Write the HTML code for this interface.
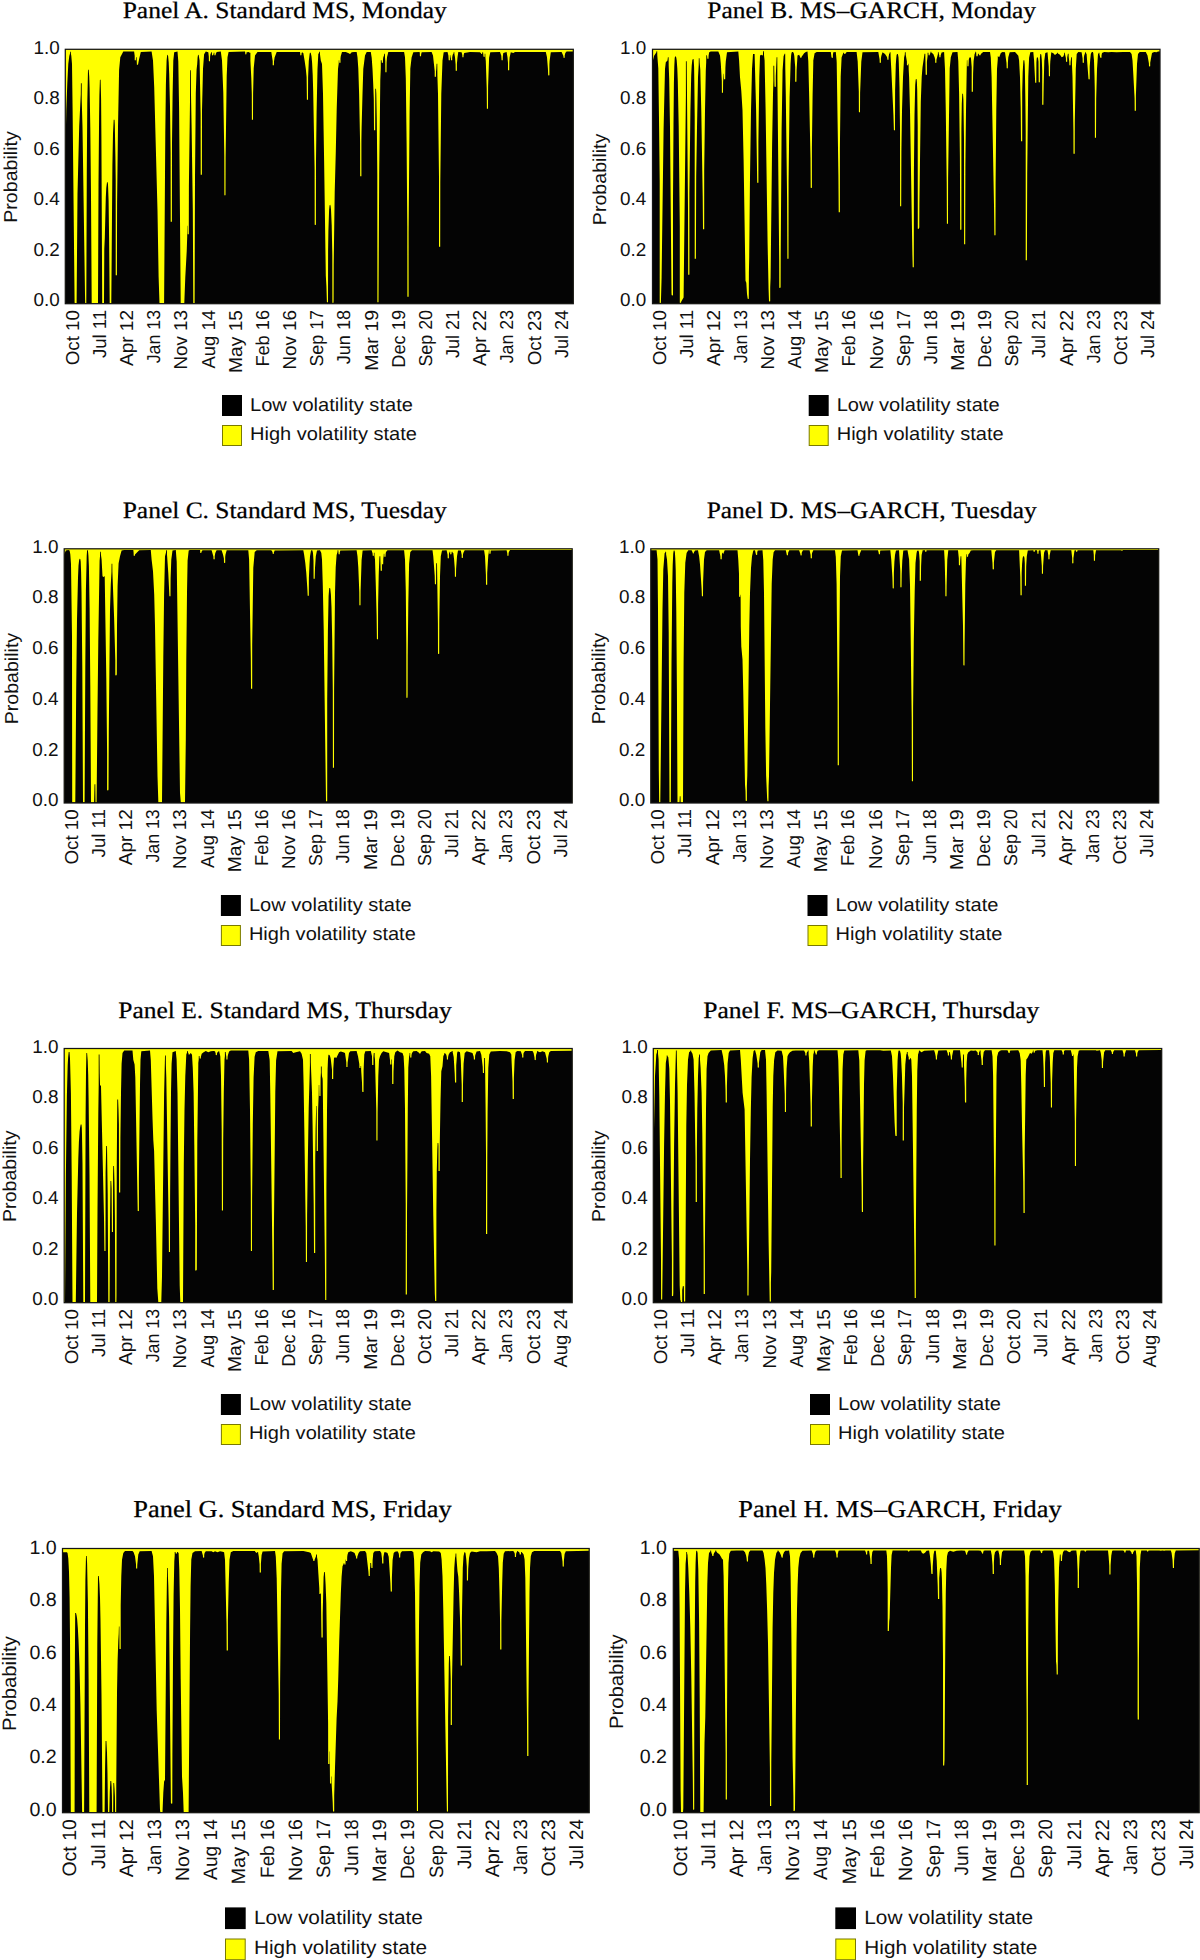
<!DOCTYPE html>
<html lang="en"><head><meta charset="utf-8"><title>Smoothed state probabilities</title>
<style>
html,body{margin:0;padding:0;background:#fff;}
svg{display:block;}
text{text-rendering:geometricPrecision;}
</style></head>
<body>
<svg width="1200" height="1960" viewBox="0 0 1200 1960">
<rect width="1200" height="1960" fill="#fff"/>
<g id="panelA">
<text x="122.7" y="17.9" font-family='"Liberation Serif", serif' font-size="23.5" textLength="324.0" lengthAdjust="spacingAndGlyphs" fill="#000" stroke="#000" stroke-width="0.25">Panel A. Standard MS, Monday</text>
<rect x="65.3" y="49.3" width="508.0" height="254.4" fill="#ffff00"/>
<path d="M65.3,303.7 L65.3,159.0 L66.3,110.2 L67.3,83.6 L68.3,63.8 L69.3,55.9 L70.0,53.5 L70.1,51.8 L70.8,51.8 L70.9,53.7 L71.3,55.8 L72.0,64.0 L72.6,109.3 L74.6,301.7 L74.7,303.2 L76.6,303.2 L77.5,194.0 L79.2,126.6 L80.8,94.0 L80.9,83.3 L81.7,83.3 L81.7,98.9 L82.5,127.3 L85.0,294.0 L85.2,302.8 L85.3,303.2 L86.3,303.2 L86.8,171.6 L87.3,102.3 L88.0,69.8 L88.7,69.8 L89.2,76.3 L89.6,87.5 L90.3,127.6 L91.0,195.4 L91.7,303.2 L98.0,303.2 L98.5,185.7 L99.1,117.8 L99.4,94.8 L99.9,79.8 L100.6,79.8 L101.1,99.6 L101.4,136.2 L102.2,303.2 L104.0,303.2 L104.3,248.7 L104.8,238.1 L105.8,197.3 L106.3,187.8 L107.0,182.3 L107.7,182.3 L108.0,184.4 L108.6,200.7 L109.1,239.0 L109.7,303.2 L111.3,303.2 L112.4,165.4 L113.0,133.6 L113.7,119.8 L114.5,119.8 L114.8,125.0 L115.4,156.6 L115.7,180.1 L115.7,275.3 L116.3,275.3 L116.3,275.7 L116.4,275.3 L116.9,275.3 L117.1,202.3 L118.0,127.3 L119.1,69.8 L120.3,57.3 L123.3,51.5 L134.1,51.5 L134.7,55.7 L134.7,60.3 L135.2,60.3 L135.3,60.6 L135.4,60.3 L135.9,60.3 L136.0,57.3 L136.6,57.3 L136.9,64.8 L138.0,64.8 L139.1,59.1 L140.8,52.0 L151.6,51.5 L153.0,60.6 L154.2,86.8 L157.5,210.7 L158.6,276.4 L159.5,303.2 L164.1,303.2 L165.3,133.1 L165.9,84.4 L166.6,60.4 L167.2,55.1 L167.4,54.8 L167.7,54.9 L168.1,56.0 L168.7,62.3 L169.2,74.0 L170.0,106.4 L170.6,152.9 L170.7,221.8 L171.3,221.8 L171.3,222.0 L171.4,221.8 L171.9,221.8 L172.0,144.0 L172.6,95.2 L173.3,60.5 L174.2,52.3 L177.5,51.5 L178.3,61.6 L179.1,109.6 L180.7,303.2 L184.3,303.2 L185.3,277.0 L186.7,251.5 L187.2,236.8 L187.3,225.8 L187.6,225.8 L187.7,234.3 L188.8,234.3 L188.9,186.0 L190.0,101.2 L190.1,70.3 L190.8,70.3 L190.9,72.8 L191.0,94.9 L191.6,126.5 L192.8,208.3 L193.3,303.2 L194.6,303.2 L195.0,177.3 L195.8,93.5 L196.6,69.5 L197.2,64.3 L197.6,57.6 L198.0,55.0 L198.4,54.8 L198.7,55.3 L199.6,60.6 L200.6,114.2 L200.7,174.8 L201.9,174.8 L202.0,110.6 L203.0,69.0 L204.1,54.2 L205.8,51.5 L208.3,52.3 L208.8,56.4 L208.9,61.3 L209.4,61.3 L209.5,61.5 L209.5,61.3 L210.0,61.3 L210.1,56.6 L210.5,54.0 L211.1,53.1 L211.1,52.3 L211.9,52.3 L212.0,55.3 L212.4,55.3 L212.5,55.6 L212.7,55.3 L213.1,55.3 L213.3,54.4 L213.6,54.0 L213.7,52.8 L214.4,52.8 L214.4,55.3 L214.8,55.3 L215.0,55.6 L215.1,55.3 L215.6,55.3 L215.7,54.1 L216.7,52.0 L220.8,51.5 L220.8,51.6 L222.0,60.6 L223.3,93.1 L224.3,155.4 L224.4,195.3 L224.9,195.3 L225.0,195.7 L225.0,195.3 L225.5,195.3 L225.6,158.5 L226.7,76.5 L227.5,57.3 L228.6,52.0 L245.0,51.5 L245.2,52.5 L245.3,54.3 L245.7,54.3 L245.8,54.8 L246.0,54.3 L246.4,54.3 L246.5,52.8 L246.7,52.3 L249.1,52.0 L249.6,53.0 L249.6,52.8 L250.4,52.8 L250.4,60.7 L251.3,77.9 L251.8,94.3 L251.9,119.8 L252.5,119.8 L253.0,119.8 L253.1,93.7 L253.7,68.6 L255.0,55.6 L257.5,52.0 L271.3,52.0 L272.7,61.1 L272.7,65.3 L273.2,65.3 L273.3,65.5 L273.4,65.3 L273.9,65.3 L274.0,61.5 L274.6,57.4 L276.7,52.0 L300.0,52.0 L300.2,53.1 L300.3,55.3 L300.7,55.3 L300.8,55.6 L300.9,55.3 L301.4,55.3 L301.5,53.6 L302.0,52.3 L303.3,53.1 L304.6,60.5 L305.8,68.7 L306.6,77.1 L306.9,99.8 L307.5,99.8 L308.0,99.8 L308.1,77.2 L308.8,60.9 L309.6,54.2 L309.9,52.8 L310.7,52.8 L311.5,56.2 L312.1,62.8 L312.7,74.8 L313.2,91.9 L314.6,168.4 L314.7,224.8 L315.3,224.9 L315.9,224.8 L316.0,160.7 L316.6,111.9 L317.5,69.0 L318.3,53.9 L319.0,53.0 L319.2,51.8 L319.9,51.8 L320.0,54.4 L320.8,60.4 L322.0,64.0 L323.0,94.0 L324.1,159.7 L325.8,275.4 L326.4,285.9 L326.9,302.3 L328.0,302.3 L328.1,250.3 L328.4,230.7 L329.1,209.7 L329.5,205.7 L329.8,204.9 L330.1,204.8 L330.3,205.1 L330.6,206.0 L331.0,209.5 L331.7,225.1 L332.3,254.8 L332.4,302.8 L332.9,302.8 L333.0,303.2 L333.0,302.8 L333.5,302.8 L333.6,300.3 L333.7,264.9 L334.7,192.8 L335.8,151.5 L336.7,109.6 L338.0,69.0 L338.7,63.6 L338.8,60.3 L339.2,60.3 L339.3,62.8 L339.8,62.8 L340.0,63.1 L340.0,62.8 L340.5,62.8 L340.5,58.2 L340.8,55.9 L342.0,52.0 L345.8,52.0 L349.3,53.6 L349.3,53.8 L350.0,54.0 L350.5,53.8 L350.5,53.4 L351.7,52.3 L354.2,52.0 L356.6,52.0 L356.7,52.2 L357.5,57.3 L358.3,68.5 L359.1,93.5 L360.1,143.2 L360.2,176.3 L361.4,176.3 L361.4,140.3 L361.6,128.3 L362.5,94.0 L363.3,68.8 L365.0,55.6 L366.7,52.0 L370.8,52.0 L371.7,57.8 L372.5,69.0 L373.3,86.1 L373.8,99.6 L374.0,130.3 L374.6,130.3 L374.6,130.8 L374.7,130.3 L375.2,130.3 L375.3,88.8 L376.0,88.8 L376.3,93.7 L376.8,121.3 L377.3,175.1 L377.4,302.3 L378.5,302.3 L379.2,174.0 L380.3,79.8 L380.8,68.0 L380.8,60.3 L381.6,60.3 L381.8,62.8 L382.3,62.8 L382.5,63.1 L382.5,62.8 L383.0,62.8 L383.0,59.3 L383.3,57.3 L384.0,55.6 L384.2,53.8 L384.9,53.8 L385.0,57.3 L385.3,60.9 L385.4,72.3 L386.5,72.3 L386.6,62.6 L387.0,57.3 L388.3,52.0 L404.1,52.0 L405.0,57.3 L405.8,78.6 L406.6,142.7 L407.3,226.0 L407.4,296.8 L408.0,296.8 L408.0,296.9 L408.1,296.8 L408.6,296.8 L408.6,231.9 L409.6,112.7 L410.3,71.1 L410.3,68.8 L411.6,57.4 L413.3,52.3 L419.6,52.0 L419.8,53.0 L419.9,56.3 L420.4,56.3 L420.5,56.5 L420.5,56.3 L421.0,56.3 L421.2,54.0 L421.7,52.3 L431.6,52.0 L433.0,55.6 L434.7,71.0 L434.7,76.8 L435.2,76.8 L435.3,77.2 L435.4,76.8 L435.9,76.8 L436.0,71.8 L436.3,68.8 L436.6,63.8 L437.3,63.8 L437.4,76.0 L438.0,94.0 L439.0,178.3 L439.0,246.8 L439.6,246.8 L439.6,247.3 L439.7,246.8 L440.2,246.8 L440.2,245.3 L440.3,181.9 L441.3,93.5 L442.5,60.6 L443.7,52.3 L447.5,52.0 L448.4,55.5 L448.7,60.3 L449.2,60.3 L449.3,60.5 L449.4,60.3 L449.9,60.3 L449.9,55.3 L450.4,55.3 L450.5,57.1 L450.9,58.3 L451.0,60.3 L451.5,60.3 L451.6,60.6 L451.7,60.3 L452.2,60.3 L452.2,57.2 L452.7,54.7 L453.5,53.4 L453.6,52.3 L454.4,52.3 L454.4,54.0 L455.0,57.3 L455.6,64.2 L455.7,70.8 L456.2,70.8 L456.3,71.3 L456.4,70.8 L456.9,70.8 L456.9,64.0 L457.5,57.3 L458.3,52.0 L461.6,52.3 L462.3,54.9 L462.4,57.3 L463.5,57.3 L463.6,55.3 L464.2,53.1 L470.0,52.0 L480.0,52.3 L481.0,53.3 L481.0,53.8 L481.6,54.0 L482.2,53.8 L482.3,52.3 L483.1,52.3 L483.5,56.8 L484.0,56.8 L484.1,57.2 L484.3,56.8 L484.7,56.8 L484.7,53.8 L485.3,53.8 L485.4,57.2 L485.8,61.1 L486.7,88.0 L486.9,108.8 L487.4,108.8 L487.5,109.0 L487.5,108.8 L488.0,108.8 L488.1,86.2 L489.1,57.7 L490.3,52.3 L500.0,52.0 L501.3,55.7 L501.6,60.3 L502.1,60.3 L502.1,60.5 L502.2,60.3 L502.7,60.3 L502.8,56.6 L503.3,53.1 L506.6,52.0 L507.5,57.3 L508.0,63.0 L508.0,70.3 L508.6,70.3 L508.6,70.4 L508.7,70.3 L509.2,70.3 L509.3,62.2 L509.6,57.5 L510.8,52.3 L513.3,53.1 L515.0,52.0 L545.8,52.0 L547.0,57.3 L547.9,68.4 L548.2,75.3 L548.8,75.4 L549.4,75.3 L549.4,64.5 L549.6,60.9 L550.8,52.3 L561.6,52.0 L563.4,55.9 L563.5,57.8 L564.0,57.8 L564.1,58.1 L564.2,57.8 L564.7,57.8 L564.7,55.6 L565.3,53.1 L566.6,51.5 L573.3,51.5 L573.3,51.5 L573.3,303.7 Z" fill="#040404"/>
<rect x="65.3" y="49.3" width="508.0" height="254.4" fill="none" stroke="#151515" stroke-width="1.25"/>
<text x="59.7" y="53.8" text-anchor="end" font-family='"Liberation Sans", sans-serif' font-size="18.70" textLength="26.3" lengthAdjust="spacingAndGlyphs" fill="#111">1.0</text>
<text x="59.7" y="104.3" text-anchor="end" font-family='"Liberation Sans", sans-serif' font-size="18.70" textLength="26.3" lengthAdjust="spacingAndGlyphs" fill="#111">0.8</text>
<text x="59.7" y="154.8" text-anchor="end" font-family='"Liberation Sans", sans-serif' font-size="18.70" textLength="26.3" lengthAdjust="spacingAndGlyphs" fill="#111">0.6</text>
<text x="59.7" y="205.3" text-anchor="end" font-family='"Liberation Sans", sans-serif' font-size="18.70" textLength="26.3" lengthAdjust="spacingAndGlyphs" fill="#111">0.4</text>
<text x="59.7" y="255.9" text-anchor="end" font-family='"Liberation Sans", sans-serif' font-size="18.70" textLength="26.3" lengthAdjust="spacingAndGlyphs" fill="#111">0.2</text>
<text x="59.7" y="306.4" text-anchor="end" font-family='"Liberation Sans", sans-serif' font-size="18.70" textLength="26.3" lengthAdjust="spacingAndGlyphs" fill="#111">0.0</text>
<text transform="translate(17.1,177.0) rotate(-90)" text-anchor="middle" font-family='"Liberation Sans", sans-serif' font-size="18.70" textLength="91.5" lengthAdjust="spacingAndGlyphs" fill="#111">Probability</text>
<text transform="translate(78.8,310.0) rotate(-90)" text-anchor="end" font-family='"Liberation Sans", sans-serif' font-size="18.70" textLength="55.3" lengthAdjust="spacingAndGlyphs" fill="#111">Oct 10</text>
<text transform="translate(105.9,310.0) rotate(-90)" text-anchor="end" font-family='"Liberation Sans", sans-serif' font-size="18.70" textLength="48.1" lengthAdjust="spacingAndGlyphs" fill="#111">Jul 11</text>
<text transform="translate(133.1,310.0) rotate(-90)" text-anchor="end" font-family='"Liberation Sans", sans-serif' font-size="18.70" textLength="56.0" lengthAdjust="spacingAndGlyphs" fill="#111">Apr 12</text>
<text transform="translate(160.2,310.0) rotate(-90)" text-anchor="end" font-family='"Liberation Sans", sans-serif' font-size="18.70" textLength="53.3" lengthAdjust="spacingAndGlyphs" fill="#111">Jan 13</text>
<text transform="translate(187.4,310.0) rotate(-90)" text-anchor="end" font-family='"Liberation Sans", sans-serif' font-size="18.70" textLength="59.6" lengthAdjust="spacingAndGlyphs" fill="#111">Nov 13</text>
<text transform="translate(214.6,310.0) rotate(-90)" text-anchor="end" font-family='"Liberation Sans", sans-serif' font-size="18.70" textLength="58.6" lengthAdjust="spacingAndGlyphs" fill="#111">Aug 14</text>
<text transform="translate(241.7,310.0) rotate(-90)" text-anchor="end" font-family='"Liberation Sans", sans-serif' font-size="18.70" textLength="63.0" lengthAdjust="spacingAndGlyphs" fill="#111">May 15</text>
<text transform="translate(268.9,310.0) rotate(-90)" text-anchor="end" font-family='"Liberation Sans", sans-serif' font-size="18.70" textLength="56.6" lengthAdjust="spacingAndGlyphs" fill="#111">Feb 16</text>
<text transform="translate(296.1,310.0) rotate(-90)" text-anchor="end" font-family='"Liberation Sans", sans-serif' font-size="18.70" textLength="59.6" lengthAdjust="spacingAndGlyphs" fill="#111">Nov 16</text>
<text transform="translate(323.2,310.0) rotate(-90)" text-anchor="end" font-family='"Liberation Sans", sans-serif' font-size="18.70" textLength="56.6" lengthAdjust="spacingAndGlyphs" fill="#111">Sep 17</text>
<text transform="translate(350.4,310.0) rotate(-90)" text-anchor="end" font-family='"Liberation Sans", sans-serif' font-size="18.70" textLength="54.3" lengthAdjust="spacingAndGlyphs" fill="#111">Jun 18</text>
<text transform="translate(377.6,310.0) rotate(-90)" text-anchor="end" font-family='"Liberation Sans", sans-serif' font-size="18.70" textLength="60.8" lengthAdjust="spacingAndGlyphs" fill="#111">Mar 19</text>
<text transform="translate(404.7,310.0) rotate(-90)" text-anchor="end" font-family='"Liberation Sans", sans-serif' font-size="18.70" textLength="57.7" lengthAdjust="spacingAndGlyphs" fill="#111">Dec 19</text>
<text transform="translate(431.9,310.0) rotate(-90)" text-anchor="end" font-family='"Liberation Sans", sans-serif' font-size="18.70" textLength="56.6" lengthAdjust="spacingAndGlyphs" fill="#111">Sep 20</text>
<text transform="translate(459.1,310.0) rotate(-90)" text-anchor="end" font-family='"Liberation Sans", sans-serif' font-size="18.70" textLength="48.1" lengthAdjust="spacingAndGlyphs" fill="#111">Jul 21</text>
<text transform="translate(486.2,310.0) rotate(-90)" text-anchor="end" font-family='"Liberation Sans", sans-serif' font-size="18.70" textLength="56.0" lengthAdjust="spacingAndGlyphs" fill="#111">Apr 22</text>
<text transform="translate(513.4,310.0) rotate(-90)" text-anchor="end" font-family='"Liberation Sans", sans-serif' font-size="18.70" textLength="53.3" lengthAdjust="spacingAndGlyphs" fill="#111">Jan 23</text>
<text transform="translate(540.6,310.0) rotate(-90)" text-anchor="end" font-family='"Liberation Sans", sans-serif' font-size="18.70" textLength="55.3" lengthAdjust="spacingAndGlyphs" fill="#111">Oct 23</text>
<text transform="translate(567.7,310.0) rotate(-90)" text-anchor="end" font-family='"Liberation Sans", sans-serif' font-size="18.70" textLength="48.1" lengthAdjust="spacingAndGlyphs" fill="#111">Jul 24</text>
<rect x="222.0" y="395.0" width="20.0" height="21.0" fill="#000"/>
<rect x="222.5" y="425.5" width="19.0" height="20.0" fill="#ffff00" stroke="#7a7a00" stroke-width="1"/>
<text x="250.0" y="411.0" font-family='"Liberation Sans", sans-serif' font-size="18.70" textLength="162.9" lengthAdjust="spacingAndGlyphs" fill="#111">Low volatility state</text>
<text x="250.0" y="440.0" font-family='"Liberation Sans", sans-serif' font-size="18.70" textLength="166.9" lengthAdjust="spacingAndGlyphs" fill="#111">High volatility state</text>
</g>
<g id="panelB">
<text x="707.3" y="17.9" font-family='"Liberation Serif", serif' font-size="23.5" textLength="328.7" lengthAdjust="spacingAndGlyphs" fill="#000" stroke="#000" stroke-width="0.25">Panel B. MS–GARCH, Monday</text>
<rect x="652.5" y="49.3" width="507.5" height="254.4" fill="#ffff00"/>
<path d="M652.5,303.7 L652.5,62.3 L654.1,55.7 L656.3,52.5 L656.5,51.3 L657.2,51.3 L657.3,55.4 L658.3,68.5 L659.1,126.2 L659.7,180.7 L659.7,302.8 L660.3,302.9 L660.9,302.8 L661.6,277.7 L663.6,128.5 L665.0,69.0 L665.8,62.3 L667.5,60.6 L667.9,57.3 L668.6,57.3 L668.7,66.1 L669.2,79.3 L670.0,127.3 L671.5,292.8 L671.6,294.8 L671.8,295.3 L672.2,295.3 L672.6,295.7 L672.7,295.3 L673.0,295.3 L673.0,199.1 L673.5,125.1 L673.9,83.3 L674.3,66.6 L674.7,58.0 L675.1,56.5 L675.5,56.5 L675.9,56.6 L676.3,57.7 L676.7,60.2 L677.3,68.4 L677.8,81.5 L678.7,125.8 L679.8,225.9 L679.8,302.8 L680.3,302.8 L680.3,303.2 L680.5,302.8 L681.0,302.8 L681.3,301.4 L683.6,297.4 L685.9,95.3 L685.9,61.3 L686.7,61.3 L688.0,208.6 L688.2,274.8 L688.7,274.8 L688.8,275.1 L688.8,274.8 L689.3,274.8 L689.4,274.3 L689.4,192.6 L690.4,111.4 L691.2,75.7 L691.7,65.7 L692.3,60.3 L692.6,59.4 L693.0,59.0 L693.5,59.1 L693.7,60.1 L694.1,67.2 L694.3,80.1 L694.7,115.7 L694.7,258.8 L695.3,258.8 L695.3,259.0 L695.4,258.8 L695.9,258.8 L696.2,177.3 L697.0,127.3 L698.0,77.3 L698.7,65.0 L698.8,58.3 L699.5,58.3 L699.7,63.1 L700.3,69.7 L701.3,111.6 L702.7,195.7 L703.0,229.3 L704.2,229.3 L704.2,170.7 L705.0,110.6 L705.8,70.6 L706.2,62.3 L706.3,55.3 L707.0,55.3 L707.4,58.8 L707.9,58.8 L708.0,59.0 L708.0,58.8 L708.5,58.8 L708.6,55.5 L709.2,52.3 L710.8,51.5 L718.3,51.5 L720.0,55.6 L720.8,63.6 L721.8,80.8 L721.9,92.8 L722.4,92.8 L722.5,93.1 L722.5,92.8 L723.0,92.8 L723.1,81.7 L723.7,73.8 L724.0,73.8 L724.0,79.3 L724.6,79.3 L724.6,79.6 L724.7,79.3 L725.2,79.3 L725.4,67.8 L725.8,61.2 L727.0,52.3 L738.3,51.5 L739.1,60.5 L740.0,77.3 L741.3,90.9 L742.5,110.6 L743.6,159.9 L745.5,280.7 L746.3,282.7 L747.0,294.0 L747.7,298.8 L748.3,298.9 L748.8,298.8 L748.9,273.0 L749.2,257.4 L750.0,177.3 L751.0,110.6 L752.0,69.0 L753.0,54.0 L754.6,54.0 L756.1,110.0 L757.2,181.3 L757.2,182.8 L757.7,182.8 L757.8,183.1 L757.9,182.8 L758.4,182.8 L758.4,142.1 L759.3,76.8 L760.0,55.6 L761.6,54.8 L761.8,55.3 L762.1,55.3 L762.5,55.6 L762.6,55.3 L762.9,55.3 L763.2,51.3 L764.0,51.3 L764.0,55.0 L764.6,60.5 L765.6,109.8 L767.6,242.9 L768.6,289.9 L769.0,301.3 L769.6,301.4 L770.2,301.3 L770.2,287.4 L770.6,277.8 L772.1,145.3 L773.0,94.0 L773.4,80.4 L773.4,65.8 L774.2,65.8 L774.5,86.3 L774.6,86.8 L775.1,86.8 L775.3,87.2 L775.4,86.8 L775.8,86.8 L775.8,75.9 L776.6,57.3 L777.3,57.3 L777.4,79.3 L779.2,260.6 L779.3,287.8 L779.6,287.8 L779.7,288.2 L780.0,287.8 L780.4,287.8 L780.6,287.3 L780.7,256.7 L781.6,129.4 L782.6,69.9 L783.6,55.9 L784.2,54.9 L784.5,53.8 L785.2,53.8 L785.3,68.4 L785.8,95.3 L787.1,199.3 L787.4,258.8 L787.9,258.8 L788.0,259.0 L788.0,258.8 L788.5,258.8 L788.6,180.5 L789.6,97.1 L790.6,63.7 L791.1,55.7 L791.4,53.6 L791.8,52.3 L792.1,52.0 L792.7,52.0 L793.4,52.4 L793.9,53.7 L794.3,55.9 L795.2,67.0 L795.2,81.8 L795.8,81.8 L795.8,82.0 L795.9,81.8 L796.4,81.8 L796.6,70.0 L797.5,55.6 L799.1,54.8 L800.2,57.0 L800.3,57.8 L800.6,57.8 L800.8,58.1 L801.0,57.8 L801.4,57.8 L801.5,57.1 L804.1,53.2 L805.8,52.0 L807.5,51.5 L808.3,61.3 L809.1,93.3 L810.5,157.7 L810.7,187.8 L811.3,187.9 L811.9,187.8 L811.9,147.4 L812.6,95.2 L813.3,62.3 L813.3,60.5 L814.6,53.2 L816.7,52.0 L830.8,52.0 L831.5,57.3 L831.7,57.3 L831.7,57.8 L832.1,57.8 L832.5,58.1 L832.5,57.8 L832.9,57.8 L832.9,55.0 L833.3,52.3 L835.8,52.0 L836.6,60.5 L836.7,62.6 L838.4,174.2 L838.7,212.3 L839.2,212.3 L839.3,212.5 L839.3,212.3 L839.8,212.3 L839.9,211.8 L839.9,149.2 L840.7,76.6 L841.6,57.6 L843.0,53.8 L843.1,52.8 L843.8,52.8 L843.9,53.4 L844.3,53.8 L845.0,54.0 L845.4,53.8 L845.5,53.4 L846.7,52.0 L856.6,52.0 L857.7,61.5 L858.8,91.5 L858.9,112.3 L859.5,112.3 L860.0,112.3 L860.1,93.1 L861.3,61.5 L862.5,52.3 L878.3,52.0 L879.6,59.5 L879.7,62.8 L880.2,62.8 L880.3,63.0 L880.4,62.8 L880.9,62.8 L880.9,58.5 L881.3,55.9 L882.5,52.3 L885.0,54.0 L886.7,56.6 L887.2,57.8 L887.4,59.8 L888.0,59.8 L888.5,59.8 L888.6,56.8 L889.1,54.1 L889.5,53.4 L889.8,52.3 L890.5,52.3 L890.6,56.7 L891.3,69.3 L893.4,114.3 L893.9,130.3 L894.4,130.3 L894.5,130.7 L894.5,130.3 L895.0,130.3 L895.1,90.4 L895.8,64.4 L896.2,58.7 L896.6,55.1 L897.1,54.0 L897.7,54.0 L898.0,54.4 L898.5,57.3 L898.8,63.0 L899.5,87.5 L900.0,129.3 L900.1,206.3 L900.6,206.3 L900.7,206.6 L900.7,206.3 L901.2,206.3 L901.4,151.9 L902.0,110.6 L903.0,77.3 L904.1,57.6 L904.8,54.4 L904.9,52.3 L905.7,52.3 L905.7,54.4 L906.9,61.4 L906.9,65.3 L907.4,65.3 L907.5,65.6 L907.6,65.3 L908.1,65.3 L908.2,63.8 L908.6,63.8 L908.7,69.8 L909.1,77.0 L910.0,110.6 L912.4,254.8 L912.7,267.3 L913.2,267.3 L913.3,267.6 L913.3,267.3 L913.8,267.3 L913.9,173.1 L914.5,115.6 L915.2,85.3 L915.7,79.8 L916.0,79.0 L916.4,79.0 L916.6,79.2 L916.9,81.9 L917.2,90.1 L917.7,126.5 L917.8,228.8 L918.3,228.8 L918.3,229.0 L918.4,228.8 L918.9,228.8 L919.3,227.3 L919.3,224.3 L919.4,204.7 L920.8,101.8 L921.7,76.9 L922.5,67.3 L924.5,53.8 L925.3,53.8 L925.7,74.3 L925.7,74.8 L926.2,74.8 L926.3,75.3 L926.4,74.8 L926.9,74.8 L926.9,61.8 L927.6,56.1 L927.6,52.8 L928.4,52.8 L928.6,55.3 L929.0,55.3 L929.1,55.6 L929.3,55.3 L929.7,55.3 L929.8,54.2 L930.5,52.7 L930.5,51.8 L931.3,51.8 L931.3,52.4 L933.3,53.9 L934.7,57.5 L935.2,60.0 L935.2,62.8 L935.7,62.8 L935.8,63.1 L935.9,62.8 L936.4,62.8 L936.4,60.1 L937.9,53.9 L937.9,52.3 L938.7,52.3 L938.8,53.7 L939.3,55.4 L939.4,57.3 L940.5,57.3 L940.6,55.5 L941.6,52.4 L944.1,52.0 L945.0,69.0 L945.8,112.0 L946.7,182.0 L946.9,223.8 L947.4,223.8 L947.5,224.0 L947.5,223.8 L948.0,223.8 L948.1,178.4 L949.7,68.6 L950.8,57.3 L952.5,52.3 L957.5,52.0 L958.3,61.3 L959.1,93.3 L959.9,156.7 L960.2,229.8 L960.7,229.8 L960.8,230.3 L960.8,229.8 L961.3,229.8 L961.4,228.8 L961.4,129.5 L961.8,103.4 L962.3,93.8 L963.0,93.8 L963.4,99.4 L964.0,139.1 L964.1,244.3 L964.6,244.3 L964.7,244.5 L964.7,244.3 L965.2,244.3 L965.4,165.7 L966.0,110.6 L966.9,60.3 L967.3,60.3 L967.4,66.3 L967.9,66.3 L968.0,66.5 L968.0,66.3 L968.5,66.3 L968.8,59.7 L969.1,58.5 L969.5,57.6 L970.2,57.3 L970.7,57.5 L971.0,58.4 L971.7,67.1 L971.7,91.8 L972.3,91.8 L972.3,91.9 L972.4,91.8 L972.9,91.8 L973.1,73.6 L973.6,61.1 L974.6,54.1 L975.2,53.0 L975.4,51.8 L976.1,51.8 L976.4,56.3 L976.9,56.3 L977.0,56.5 L977.1,56.3 L977.6,56.3 L978.0,53.8 L978.8,53.8 L978.8,54.5 L979.3,54.9 L979.3,55.3 L979.6,55.3 L980.0,55.6 L980.2,55.3 L980.5,55.3 L980.5,54.8 L981.6,53.2 L983.3,52.0 L990.0,52.0 L990.8,57.7 L991.6,76.9 L994.0,204.8 L994.4,235.3 L994.9,235.3 L995.0,235.7 L995.0,235.3 L995.5,235.3 L995.6,183.2 L996.3,109.6 L997.0,69.0 L997.8,59.0 L997.8,56.3 L998.3,56.3 L998.4,56.8 L999.1,57.3 L999.3,56.8 L999.5,56.8 L999.6,56.2 L1000.8,53.1 L1002.5,52.0 L1005.0,52.3 L1006.5,63.0 L1006.7,68.3 L1007.2,68.3 L1007.3,68.8 L1007.4,68.3 L1007.8,68.3 L1007.9,62.4 L1008.3,57.2 L1009.7,52.3 L1015.0,52.0 L1018.3,55.7 L1019.1,60.5 L1020.0,77.3 L1020.7,107.3 L1021.0,141.3 L1021.6,141.3 L1021.6,141.7 L1021.7,141.3 L1022.2,141.3 L1022.2,91.9 L1022.7,72.3 L1023.3,62.1 L1023.5,60.3 L1024.3,60.3 L1024.7,64.3 L1024.9,70.7 L1025.4,101.9 L1025.7,130.8 L1025.7,260.3 L1026.3,260.3 L1026.3,260.6 L1026.4,260.3 L1026.9,260.3 L1027.2,174.0 L1028.3,76.9 L1029.1,57.7 L1030.3,52.3 L1033.3,52.0 L1033.3,52.1 L1034.1,60.5 L1035.2,82.8 L1036.3,82.8 L1036.4,62.6 L1036.7,58.4 L1036.9,57.6 L1037.2,57.3 L1037.7,57.4 L1038.0,58.0 L1038.5,61.7 L1038.7,82.3 L1039.2,82.3 L1039.3,82.7 L1039.4,82.3 L1039.9,82.3 L1039.9,57.8 L1040.3,54.2 L1040.5,54.0 L1040.9,54.0 L1041.3,54.8 L1041.8,59.9 L1042.2,70.3 L1042.2,104.8 L1042.8,104.8 L1042.8,105.2 L1042.9,104.8 L1043.4,104.8 L1043.4,103.8 L1043.7,84.4 L1044.3,60.5 L1045.3,53.1 L1047.5,52.3 L1048.7,66.3 L1048.9,76.3 L1049.4,76.3 L1049.5,76.5 L1049.5,76.3 L1050.0,76.3 L1050.1,65.1 L1050.3,61.3 L1051.3,52.3 L1053.3,53.2 L1054.3,54.2 L1054.4,54.8 L1055.5,54.8 L1055.6,54.4 L1057.0,53.4 L1057.1,52.8 L1057.8,52.8 L1057.9,53.4 L1060.0,54.8 L1061.7,57.3 L1063.3,56.4 L1064.1,54.4 L1064.3,52.8 L1065.0,52.8 L1065.1,54.7 L1065.9,58.0 L1066.0,61.8 L1066.5,61.8 L1066.6,62.2 L1066.7,61.8 L1067.2,61.8 L1067.2,57.6 L1067.9,53.8 L1068.6,53.8 L1068.7,56.9 L1069.3,61.7 L1069.4,65.3 L1069.9,65.3 L1070.0,65.6 L1070.1,65.3 L1070.5,65.3 L1070.6,62.0 L1071.2,57.3 L1071.9,57.3 L1072.0,65.3 L1072.5,77.3 L1073.4,129.5 L1073.5,153.8 L1074.1,153.8 L1074.1,154.3 L1074.2,153.8 L1074.7,153.8 L1074.7,152.8 L1074.8,121.3 L1075.8,68.7 L1076.7,53.9 L1078.3,52.0 L1081.6,52.3 L1082.6,58.4 L1082.7,62.8 L1083.2,62.8 L1083.3,63.0 L1083.4,62.8 L1083.9,62.8 L1083.9,57.6 L1084.2,55.5 L1085.0,53.3 L1085.0,52.3 L1085.8,52.3 L1085.8,52.9 L1086.6,53.9 L1088.4,77.8 L1088.5,79.3 L1089.0,79.3 L1089.1,79.7 L1089.2,79.3 L1089.7,79.3 L1089.7,66.6 L1090.2,60.0 L1090.8,53.9 L1091.5,52.5 L1092.0,52.0 L1092.9,52.1 L1093.3,53.3 L1094.0,60.5 L1094.5,76.2 L1094.8,90.2 L1094.9,137.8 L1095.4,137.8 L1095.5,138.2 L1095.5,137.8 L1096.0,137.8 L1096.2,99.0 L1097.0,69.0 L1098.0,54.0 L1098.6,53.5 L1098.7,52.8 L1099.4,52.8 L1099.5,54.5 L1100.3,57.8 L1100.8,57.8 L1101.0,58.1 L1101.1,57.8 L1101.5,57.8 L1101.5,55.4 L1102.0,53.1 L1104.1,52.0 L1108.3,52.3 L1111.6,52.0 L1116.6,52.3 L1123.3,52.0 L1130.0,52.0 L1131.6,53.9 L1132.5,60.6 L1133.3,74.3 L1134.6,98.4 L1134.7,110.8 L1135.2,110.8 L1135.3,111.1 L1135.4,110.8 L1135.9,110.8 L1135.9,95.5 L1137.0,64.0 L1138.0,54.0 L1139.7,52.0 L1145.8,52.0 L1147.5,55.6 L1148.9,63.3 L1149.0,66.3 L1149.6,66.4 L1150.2,66.3 L1150.2,62.7 L1152.0,53.1 L1154.1,52.0 L1156.6,52.3 L1158.0,51.5 L1160.0,51.5 L1160.0,51.5 L1160.0,303.7 Z" fill="#040404"/>
<rect x="652.5" y="49.3" width="507.5" height="254.4" fill="none" stroke="#151515" stroke-width="1.25"/>
<text x="646.4" y="53.8" text-anchor="end" font-family='"Liberation Sans", sans-serif' font-size="18.70" textLength="26.3" lengthAdjust="spacingAndGlyphs" fill="#111">1.0</text>
<text x="646.4" y="104.3" text-anchor="end" font-family='"Liberation Sans", sans-serif' font-size="18.70" textLength="26.3" lengthAdjust="spacingAndGlyphs" fill="#111">0.8</text>
<text x="646.4" y="154.8" text-anchor="end" font-family='"Liberation Sans", sans-serif' font-size="18.70" textLength="26.3" lengthAdjust="spacingAndGlyphs" fill="#111">0.6</text>
<text x="646.4" y="205.3" text-anchor="end" font-family='"Liberation Sans", sans-serif' font-size="18.70" textLength="26.3" lengthAdjust="spacingAndGlyphs" fill="#111">0.4</text>
<text x="646.4" y="255.9" text-anchor="end" font-family='"Liberation Sans", sans-serif' font-size="18.70" textLength="26.3" lengthAdjust="spacingAndGlyphs" fill="#111">0.2</text>
<text x="646.4" y="306.4" text-anchor="end" font-family='"Liberation Sans", sans-serif' font-size="18.70" textLength="26.3" lengthAdjust="spacingAndGlyphs" fill="#111">0.0</text>
<text transform="translate(606.4,179.4) rotate(-90)" text-anchor="middle" font-family='"Liberation Sans", sans-serif' font-size="18.70" textLength="91.5" lengthAdjust="spacingAndGlyphs" fill="#111">Probability</text>
<text transform="translate(665.5,310.0) rotate(-90)" text-anchor="end" font-family='"Liberation Sans", sans-serif' font-size="18.70" textLength="55.3" lengthAdjust="spacingAndGlyphs" fill="#111">Oct 10</text>
<text transform="translate(692.6,310.0) rotate(-90)" text-anchor="end" font-family='"Liberation Sans", sans-serif' font-size="18.70" textLength="48.1" lengthAdjust="spacingAndGlyphs" fill="#111">Jul 11</text>
<text transform="translate(719.7,310.0) rotate(-90)" text-anchor="end" font-family='"Liberation Sans", sans-serif' font-size="18.70" textLength="56.0" lengthAdjust="spacingAndGlyphs" fill="#111">Apr 12</text>
<text transform="translate(746.9,310.0) rotate(-90)" text-anchor="end" font-family='"Liberation Sans", sans-serif' font-size="18.70" textLength="53.3" lengthAdjust="spacingAndGlyphs" fill="#111">Jan 13</text>
<text transform="translate(774.0,310.0) rotate(-90)" text-anchor="end" font-family='"Liberation Sans", sans-serif' font-size="18.70" textLength="59.6" lengthAdjust="spacingAndGlyphs" fill="#111">Nov 13</text>
<text transform="translate(801.1,310.0) rotate(-90)" text-anchor="end" font-family='"Liberation Sans", sans-serif' font-size="18.70" textLength="58.6" lengthAdjust="spacingAndGlyphs" fill="#111">Aug 14</text>
<text transform="translate(828.3,310.0) rotate(-90)" text-anchor="end" font-family='"Liberation Sans", sans-serif' font-size="18.70" textLength="63.0" lengthAdjust="spacingAndGlyphs" fill="#111">May 15</text>
<text transform="translate(855.4,310.0) rotate(-90)" text-anchor="end" font-family='"Liberation Sans", sans-serif' font-size="18.70" textLength="56.6" lengthAdjust="spacingAndGlyphs" fill="#111">Feb 16</text>
<text transform="translate(882.6,310.0) rotate(-90)" text-anchor="end" font-family='"Liberation Sans", sans-serif' font-size="18.70" textLength="59.6" lengthAdjust="spacingAndGlyphs" fill="#111">Nov 16</text>
<text transform="translate(909.7,310.0) rotate(-90)" text-anchor="end" font-family='"Liberation Sans", sans-serif' font-size="18.70" textLength="56.6" lengthAdjust="spacingAndGlyphs" fill="#111">Sep 17</text>
<text transform="translate(936.8,310.0) rotate(-90)" text-anchor="end" font-family='"Liberation Sans", sans-serif' font-size="18.70" textLength="54.3" lengthAdjust="spacingAndGlyphs" fill="#111">Jun 18</text>
<text transform="translate(964.0,310.0) rotate(-90)" text-anchor="end" font-family='"Liberation Sans", sans-serif' font-size="18.70" textLength="60.8" lengthAdjust="spacingAndGlyphs" fill="#111">Mar 19</text>
<text transform="translate(991.1,310.0) rotate(-90)" text-anchor="end" font-family='"Liberation Sans", sans-serif' font-size="18.70" textLength="57.7" lengthAdjust="spacingAndGlyphs" fill="#111">Dec 19</text>
<text transform="translate(1018.3,310.0) rotate(-90)" text-anchor="end" font-family='"Liberation Sans", sans-serif' font-size="18.70" textLength="56.6" lengthAdjust="spacingAndGlyphs" fill="#111">Sep 20</text>
<text transform="translate(1045.4,310.0) rotate(-90)" text-anchor="end" font-family='"Liberation Sans", sans-serif' font-size="18.70" textLength="48.1" lengthAdjust="spacingAndGlyphs" fill="#111">Jul 21</text>
<text transform="translate(1072.5,310.0) rotate(-90)" text-anchor="end" font-family='"Liberation Sans", sans-serif' font-size="18.70" textLength="56.0" lengthAdjust="spacingAndGlyphs" fill="#111">Apr 22</text>
<text transform="translate(1099.7,310.0) rotate(-90)" text-anchor="end" font-family='"Liberation Sans", sans-serif' font-size="18.70" textLength="53.3" lengthAdjust="spacingAndGlyphs" fill="#111">Jan 23</text>
<text transform="translate(1126.8,310.0) rotate(-90)" text-anchor="end" font-family='"Liberation Sans", sans-serif' font-size="18.70" textLength="55.3" lengthAdjust="spacingAndGlyphs" fill="#111">Oct 23</text>
<text transform="translate(1154.0,310.0) rotate(-90)" text-anchor="end" font-family='"Liberation Sans", sans-serif' font-size="18.70" textLength="48.1" lengthAdjust="spacingAndGlyphs" fill="#111">Jul 24</text>
<rect x="808.7" y="395.0" width="20.0" height="21.0" fill="#000"/>
<rect x="809.2" y="425.5" width="19.0" height="20.0" fill="#ffff00" stroke="#7a7a00" stroke-width="1"/>
<text x="836.7" y="411.0" font-family='"Liberation Sans", sans-serif' font-size="18.70" textLength="162.9" lengthAdjust="spacingAndGlyphs" fill="#111">Low volatility state</text>
<text x="836.7" y="440.0" font-family='"Liberation Sans", sans-serif' font-size="18.70" textLength="166.9" lengthAdjust="spacingAndGlyphs" fill="#111">High volatility state</text>
</g>
<g id="panelC">
<text x="122.7" y="517.9" font-family='"Liberation Serif", serif' font-size="23.5" textLength="324.0" lengthAdjust="spacingAndGlyphs" fill="#000" stroke="#000" stroke-width="0.25">Panel C. Standard MS, Tuesday</text>
<rect x="64.2" y="548.8" width="508.0" height="254.2" fill="#ffff00"/>
<path d="M64.2,803.0 L64.2,554.6 L65.8,550.5 L68.3,550.0 L69.6,550.5 L70.3,554.2 L71.0,564.0 L72.0,637.0 L72.2,802.2 L75.3,802.2 L76.2,689.4 L77.0,619.4 L78.0,577.5 L78.5,565.8 L79.1,560.2 L79.5,559.0 L79.8,558.8 L80.2,558.9 L80.4,559.6 L80.7,561.8 L81.1,572.1 L81.5,591.7 L82.3,667.6 L83.0,802.2 L84.6,802.2 L85.3,667.4 L85.9,591.0 L86.7,556.0 L87.1,550.3 L87.9,550.3 L88.4,555.4 L88.9,566.2 L89.6,608.0 L90.3,685.6 L91.0,802.2 L94.1,802.2 L94.5,784.8 L94.6,784.3 L95.3,784.3 L95.5,802.2 L96.6,802.2 L97.5,709.7 L98.3,641.9 L99.6,560.7 L100.0,556.2 L100.1,551.8 L100.8,551.8 L101.0,555.3 L101.6,559.5 L102.5,576.3 L103.6,577.1 L104.1,576.8 L104.2,576.3 L104.7,576.3 L106.3,678.0 L107.1,753.0 L107.1,790.3 L107.6,790.3 L107.7,790.5 L108.3,790.3 L108.5,789.3 L108.8,730.5 L110.0,609.6 L110.8,584.3 L111.5,571.8 L111.6,563.8 L112.3,563.8 L112.4,572.1 L114.1,617.5 L115.3,660.0 L115.3,675.3 L115.8,675.3 L115.8,675.5 L116.5,675.3 L116.8,674.3 L117.0,626.3 L117.6,585.7 L118.6,563.3 L120.0,556.3 L121.6,550.6 L124.2,550.0 L133.3,550.0 L133.6,552.4 L133.7,555.8 L134.1,555.8 L134.2,556.2 L134.4,555.8 L134.8,555.8 L135.0,554.6 L139.2,550.3 L150.8,550.0 L150.8,550.2 L151.6,559.4 L153.0,571.3 L154.2,594.3 L155.0,626.3 L157.5,776.3 L158.3,801.1 L158.3,802.2 L162.0,802.2 L163.3,658.3 L164.1,594.3 L165.0,556.3 L166.0,552.5 L166.2,550.3 L167.0,550.3 L167.0,554.6 L168.3,573.3 L169.4,596.3 L170.5,596.3 L170.6,578.3 L171.3,559.5 L172.5,550.6 L175.8,550.0 L176.7,561.6 L180.0,793.0 L180.8,802.2 L185.0,802.2 L185.8,740.2 L186.3,658.0 L187.0,593.0 L187.6,560.5 L188.7,550.5 L190.0,550.0 L200.0,550.0 L200.2,550.7 L200.2,552.8 L200.8,552.9 L201.4,552.8 L201.5,551.8 L202.5,550.3 L211.6,550.3 L213.4,556.6 L213.5,559.3 L214.0,559.3 L214.1,559.6 L214.2,559.3 L214.7,559.3 L214.7,556.3 L215.3,552.9 L216.6,550.3 L221.6,550.3 L223.0,554.6 L223.9,558.5 L224.0,562.8 L224.6,562.9 L225.2,562.8 L225.2,557.1 L225.5,554.6 L226.7,550.3 L248.3,550.3 L249.1,559.4 L250.8,657.6 L251.0,688.8 L251.6,688.8 L251.6,689.1 L251.7,688.8 L252.2,688.8 L252.2,645.3 L253.3,567.8 L254.7,552.1 L256.7,550.3 L271.3,550.3 L272.5,552.1 L272.7,553.8 L273.1,553.8 L273.3,554.3 L273.5,553.8 L273.9,553.8 L273.9,552.6 L274.7,550.5 L303.3,550.3 L304.1,554.5 L305.3,563.1 L306.3,573.2 L307.3,587.9 L307.7,595.8 L308.2,595.8 L308.3,596.0 L308.3,595.8 L308.8,595.8 L308.9,578.0 L309.5,563.9 L310.0,556.3 L311.0,550.6 L311.8,550.3 L312.4,550.5 L313.0,553.1 L313.5,560.9 L313.6,578.8 L314.1,578.8 L314.2,579.2 L314.2,578.8 L314.7,578.8 L315.0,568.0 L315.8,556.2 L317.0,550.6 L320.0,550.3 L321.3,553.1 L322.0,559.6 L322.8,585.5 L323.7,628.8 L326.0,801.3 L326.6,801.3 L326.6,801.6 L326.7,801.3 L327.2,801.3 L327.2,699.2 L327.9,631.0 L328.6,596.0 L329.2,588.5 L329.4,588.0 L329.8,588.0 L330.1,588.2 L330.3,588.7 L330.9,594.5 L331.5,607.2 L332.2,639.3 L332.8,690.5 L332.9,767.8 L333.4,767.8 L333.5,768.0 L333.5,767.8 L334.0,767.8 L334.1,689.7 L335.0,593.0 L335.7,567.5 L336.6,554.9 L337.5,551.9 L337.6,550.3 L338.3,550.3 L338.6,554.3 L339.0,554.3 L339.1,554.6 L339.3,554.3 L339.7,554.3 L339.8,552.4 L340.3,550.5 L356.6,550.3 L357.5,556.3 L358.3,567.5 L359.3,592.2 L359.4,605.3 L359.9,605.3 L360.0,605.5 L360.0,605.3 L360.5,605.3 L360.6,590.5 L361.6,560.1 L362.6,550.7 L362.7,550.5 L371.6,550.3 L372.6,553.4 L372.7,555.8 L373.2,555.8 L373.3,556.2 L373.4,555.8 L373.9,555.8 L373.9,552.8 L374.5,552.8 L374.5,556.0 L375.0,559.6 L375.8,585.3 L376.6,615.3 L376.9,639.3 L377.4,639.3 L377.5,639.6 L377.5,639.3 L378.0,639.3 L378.1,604.6 L378.7,575.4 L379.3,558.9 L379.5,556.3 L380.3,556.3 L380.7,570.8 L381.2,570.8 L381.3,571.1 L381.4,570.8 L381.9,570.8 L381.9,561.3 L382.0,564.3 L382.6,564.3 L382.6,564.6 L382.7,564.3 L383.2,564.3 L383.3,558.3 L383.7,555.9 L383.8,553.8 L384.3,553.8 L384.4,556.8 L384.9,556.8 L385.0,557.1 L385.1,556.8 L385.5,556.8 L385.7,553.6 L386.0,552.1 L387.5,550.3 L404.1,550.3 L405.0,559.6 L405.8,591.6 L406.3,644.4 L406.4,697.8 L406.9,697.8 L407.0,698.0 L407.0,697.8 L407.5,697.8 L407.6,694.8 L407.7,656.7 L408.3,604.2 L409.1,563.7 L410.3,552.1 L412.0,550.3 L432.5,550.3 L433.3,556.5 L434.7,575.4 L434.9,584.3 L435.4,584.3 L435.5,584.6 L435.5,584.3 L436.0,584.3 L436.2,563.3 L437.0,563.3 L437.9,623.1 L438.0,653.8 L438.6,653.9 L439.2,653.8 L439.2,652.8 L439.3,619.8 L440.0,576.3 L440.8,556.2 L442.0,550.6 L446.6,550.3 L447.6,554.7 L447.7,558.3 L448.2,558.3 L448.3,558.7 L448.4,558.3 L448.9,558.3 L448.9,554.5 L449.1,553.1 L449.5,552.6 L449.5,551.8 L450.2,551.8 L450.2,554.3 L450.7,554.3 L450.8,554.6 L451.0,554.3 L451.4,554.3 L451.7,551.8 L452.4,551.8 L452.5,552.4 L453.3,552.9 L454.1,559.5 L454.8,568.5 L454.9,576.8 L455.4,576.8 L455.5,577.1 L455.5,576.8 L456.0,576.8 L456.1,568.9 L457.0,556.3 L458.0,550.6 L460.8,550.4 L461.7,554.8 L461.7,557.8 L462.3,557.9 L462.9,557.8 L462.9,554.9 L463.3,552.9 L464.7,550.3 L484.1,550.3 L485.0,556.3 L485.9,574.7 L486.0,584.8 L486.6,584.8 L486.6,585.2 L486.7,584.8 L487.2,584.8 L487.2,573.2 L487.5,568.0 L488.3,555.2 L488.8,552.5 L488.9,550.3 L489.3,550.3 L489.4,553.8 L490.0,553.8 L490.5,553.8 L490.8,550.5 L506.6,550.3 L507.3,553.2 L507.4,555.8 L507.9,555.8 L508.0,556.0 L508.0,555.8 L508.5,555.8 L508.6,553.2 L508.8,552.3 L510.0,550.1 L572.2,550.1 L572.2,550.1 L572.2,803.0 Z" fill="#040404"/>
<rect x="64.2" y="548.8" width="508.0" height="254.2" fill="none" stroke="#151515" stroke-width="1.25"/>
<text x="58.6" y="552.7" text-anchor="end" font-family='"Liberation Sans", sans-serif' font-size="18.70" textLength="26.3" lengthAdjust="spacingAndGlyphs" fill="#111">1.0</text>
<text x="58.6" y="603.4" text-anchor="end" font-family='"Liberation Sans", sans-serif' font-size="18.70" textLength="26.3" lengthAdjust="spacingAndGlyphs" fill="#111">0.8</text>
<text x="58.6" y="654.1" text-anchor="end" font-family='"Liberation Sans", sans-serif' font-size="18.70" textLength="26.3" lengthAdjust="spacingAndGlyphs" fill="#111">0.6</text>
<text x="58.6" y="704.8" text-anchor="end" font-family='"Liberation Sans", sans-serif' font-size="18.70" textLength="26.3" lengthAdjust="spacingAndGlyphs" fill="#111">0.4</text>
<text x="58.6" y="755.5" text-anchor="end" font-family='"Liberation Sans", sans-serif' font-size="18.70" textLength="26.3" lengthAdjust="spacingAndGlyphs" fill="#111">0.2</text>
<text x="58.6" y="806.2" text-anchor="end" font-family='"Liberation Sans", sans-serif' font-size="18.70" textLength="26.3" lengthAdjust="spacingAndGlyphs" fill="#111">0.0</text>
<text transform="translate(18.1,678.6) rotate(-90)" text-anchor="middle" font-family='"Liberation Sans", sans-serif' font-size="18.70" textLength="91.5" lengthAdjust="spacingAndGlyphs" fill="#111">Probability</text>
<text transform="translate(77.7,809.3) rotate(-90)" text-anchor="end" font-family='"Liberation Sans", sans-serif' font-size="18.70" textLength="55.3" lengthAdjust="spacingAndGlyphs" fill="#111">Oct 10</text>
<text transform="translate(104.8,809.3) rotate(-90)" text-anchor="end" font-family='"Liberation Sans", sans-serif' font-size="18.70" textLength="48.1" lengthAdjust="spacingAndGlyphs" fill="#111">Jul 11</text>
<text transform="translate(132.0,809.3) rotate(-90)" text-anchor="end" font-family='"Liberation Sans", sans-serif' font-size="18.70" textLength="56.0" lengthAdjust="spacingAndGlyphs" fill="#111">Apr 12</text>
<text transform="translate(159.1,809.3) rotate(-90)" text-anchor="end" font-family='"Liberation Sans", sans-serif' font-size="18.70" textLength="53.3" lengthAdjust="spacingAndGlyphs" fill="#111">Jan 13</text>
<text transform="translate(186.3,809.3) rotate(-90)" text-anchor="end" font-family='"Liberation Sans", sans-serif' font-size="18.70" textLength="59.6" lengthAdjust="spacingAndGlyphs" fill="#111">Nov 13</text>
<text transform="translate(213.5,809.3) rotate(-90)" text-anchor="end" font-family='"Liberation Sans", sans-serif' font-size="18.70" textLength="58.6" lengthAdjust="spacingAndGlyphs" fill="#111">Aug 14</text>
<text transform="translate(240.6,809.3) rotate(-90)" text-anchor="end" font-family='"Liberation Sans", sans-serif' font-size="18.70" textLength="63.0" lengthAdjust="spacingAndGlyphs" fill="#111">May 15</text>
<text transform="translate(267.8,809.3) rotate(-90)" text-anchor="end" font-family='"Liberation Sans", sans-serif' font-size="18.70" textLength="56.6" lengthAdjust="spacingAndGlyphs" fill="#111">Feb 16</text>
<text transform="translate(295.0,809.3) rotate(-90)" text-anchor="end" font-family='"Liberation Sans", sans-serif' font-size="18.70" textLength="59.6" lengthAdjust="spacingAndGlyphs" fill="#111">Nov 16</text>
<text transform="translate(322.1,809.3) rotate(-90)" text-anchor="end" font-family='"Liberation Sans", sans-serif' font-size="18.70" textLength="56.6" lengthAdjust="spacingAndGlyphs" fill="#111">Sep 17</text>
<text transform="translate(349.3,809.3) rotate(-90)" text-anchor="end" font-family='"Liberation Sans", sans-serif' font-size="18.70" textLength="54.3" lengthAdjust="spacingAndGlyphs" fill="#111">Jun 18</text>
<text transform="translate(376.5,809.3) rotate(-90)" text-anchor="end" font-family='"Liberation Sans", sans-serif' font-size="18.70" textLength="60.8" lengthAdjust="spacingAndGlyphs" fill="#111">Mar 19</text>
<text transform="translate(403.6,809.3) rotate(-90)" text-anchor="end" font-family='"Liberation Sans", sans-serif' font-size="18.70" textLength="57.7" lengthAdjust="spacingAndGlyphs" fill="#111">Dec 19</text>
<text transform="translate(430.8,809.3) rotate(-90)" text-anchor="end" font-family='"Liberation Sans", sans-serif' font-size="18.70" textLength="56.6" lengthAdjust="spacingAndGlyphs" fill="#111">Sep 20</text>
<text transform="translate(458.0,809.3) rotate(-90)" text-anchor="end" font-family='"Liberation Sans", sans-serif' font-size="18.70" textLength="48.1" lengthAdjust="spacingAndGlyphs" fill="#111">Jul 21</text>
<text transform="translate(485.1,809.3) rotate(-90)" text-anchor="end" font-family='"Liberation Sans", sans-serif' font-size="18.70" textLength="56.0" lengthAdjust="spacingAndGlyphs" fill="#111">Apr 22</text>
<text transform="translate(512.3,809.3) rotate(-90)" text-anchor="end" font-family='"Liberation Sans", sans-serif' font-size="18.70" textLength="53.3" lengthAdjust="spacingAndGlyphs" fill="#111">Jan 23</text>
<text transform="translate(539.5,809.3) rotate(-90)" text-anchor="end" font-family='"Liberation Sans", sans-serif' font-size="18.70" textLength="55.3" lengthAdjust="spacingAndGlyphs" fill="#111">Oct 23</text>
<text transform="translate(566.6,809.3) rotate(-90)" text-anchor="end" font-family='"Liberation Sans", sans-serif' font-size="18.70" textLength="48.1" lengthAdjust="spacingAndGlyphs" fill="#111">Jul 24</text>
<rect x="220.9" y="895.0" width="20.0" height="21.0" fill="#000"/>
<rect x="221.4" y="925.5" width="19.0" height="20.0" fill="#ffff00" stroke="#7a7a00" stroke-width="1"/>
<text x="248.9" y="911.0" font-family='"Liberation Sans", sans-serif' font-size="18.70" textLength="162.9" lengthAdjust="spacingAndGlyphs" fill="#111">Low volatility state</text>
<text x="248.9" y="940.0" font-family='"Liberation Sans", sans-serif' font-size="18.70" textLength="166.9" lengthAdjust="spacingAndGlyphs" fill="#111">High volatility state</text>
</g>
<g id="panelD">
<text x="706.7" y="517.9" font-family='"Liberation Serif", serif' font-size="23.5" textLength="330.0" lengthAdjust="spacingAndGlyphs" fill="#000" stroke="#000" stroke-width="0.25">Panel D. MS–GARCH, Tuesday</text>
<rect x="650.8" y="548.8" width="507.9" height="254.2" fill="#ffff00"/>
<path d="M650.8,803.0 L650.8,550.3 L656.6,550.3 L657.5,559.6 L658.0,609.6 L658.8,770.8 L659.2,802.2 L660.3,802.2 L660.3,800.7 L662.5,609.6 L663.3,569.6 L664.6,553.2 L665.3,552.5 L665.3,551.8 L666.1,551.8 L666.1,554.2 L667.0,559.6 L668.0,576.3 L668.7,631.9 L669.5,802.2 L670.8,802.2 L671.5,662.8 L672.3,583.8 L672.7,565.1 L673.2,554.0 L673.5,551.7 L673.8,550.6 L674.3,550.6 L674.5,550.7 L674.9,552.2 L675.3,558.5 L675.7,569.5 L676.3,612.0 L676.9,688.5 L677.5,802.2 L679.5,802.2 L679.8,796.3 L680.5,796.3 L680.7,802.2 L683.0,802.2 L683.6,663.8 L684.3,592.5 L685.3,562.8 L686.6,553.1 L688.3,550.3 L691.6,550.3 L692.7,552.5 L692.7,553.3 L693.1,553.3 L693.3,553.8 L693.6,553.3 L693.9,553.3 L693.9,552.6 L695.0,550.6 L698.0,550.3 L699.1,556.2 L700.0,564.6 L701.6,588.6 L701.9,596.3 L702.4,596.3 L702.5,596.6 L702.5,596.3 L703.0,596.3 L703.1,582.0 L704.0,559.6 L705.0,552.1 L706.7,550.3 L719.1,550.3 L720.4,556.3 L720.5,559.3 L721.0,559.3 L721.1,559.6 L721.2,559.3 L721.7,559.3 L722.0,552.8 L722.5,552.8 L722.5,553.3 L723.3,553.8 L723.7,553.3 L723.7,552.7 L724.7,550.3 L737.5,550.3 L738.3,560.0 L739.0,574.0 L739.1,596.8 L739.6,596.8 L739.6,597.3 L739.7,596.8 L740.2,596.8 L740.3,594.8 L740.6,594.8 L740.8,627.0 L741.3,646.5 L742.5,659.6 L743.3,694.0 L745.0,784.7 L745.5,790.9 L745.7,800.8 L746.3,800.9 L746.9,800.8 L746.9,785.9 L747.3,775.1 L749.3,625.5 L750.0,593.0 L751.0,568.0 L752.0,556.3 L753.3,550.5 L755.0,550.3 L756.0,554.8 L756.6,554.9 L757.2,554.8 L757.2,552.4 L757.7,550.5 L762.5,550.3 L763.3,560.5 L764.0,593.0 L765.3,727.3 L766.1,775.3 L767.1,797.8 L767.4,801.3 L768.0,801.3 L768.5,801.3 L768.6,786.3 L769.0,776.3 L771.7,583.8 L772.7,559.4 L773.6,552.3 L775.0,550.3 L785.8,550.3 L786.9,555.3 L787.4,555.3 L787.5,555.5 L787.5,555.3 L788.0,555.3 L788.1,553.1 L788.3,552.3 L789.3,550.3 L799.1,550.3 L800.4,553.9 L800.5,555.3 L801.1,555.4 L801.7,555.3 L801.7,553.1 L802.0,552.1 L803.0,550.3 L809.6,550.3 L810.6,555.1 L810.7,558.3 L811.2,558.3 L811.3,558.7 L811.4,558.3 L811.9,558.3 L811.9,554.5 L812.1,553.1 L813.3,550.3 L835.0,550.3 L835.8,556.9 L836.6,584.1 L837.6,700.8 L837.7,765.3 L838.3,765.3 L838.9,765.3 L838.9,698.5 L840.0,576.3 L840.8,556.2 L842.0,550.6 L857.5,550.3 L858.4,555.8 L858.9,555.8 L859.0,556.0 L859.1,555.8 L859.5,555.8 L859.6,554.2 L861.2,550.3 L878.0,550.3 L878.6,552.4 L878.9,554.3 L879.5,554.3 L880.0,554.3 L880.1,551.6 L880.3,550.5 L890.3,550.3 L891.3,559.9 L892.4,577.2 L892.7,588.3 L893.3,588.4 L893.8,588.3 L893.9,572.3 L894.4,561.8 L895.0,555.0 L895.8,551.2 L896.1,550.6 L896.5,550.4 L899.0,550.3 L900.3,571.0 L900.4,587.3 L900.9,587.3 L901.0,587.6 L901.0,587.3 L901.5,587.3 L901.7,574.2 L902.3,560.5 L903.3,550.5 L907.5,550.3 L909.1,559.5 L910.0,584.6 L911.7,716.8 L911.9,781.3 L912.5,781.3 L913.0,781.3 L913.1,707.6 L913.8,640.8 L914.7,591.8 L915.5,563.0 L916.5,553.6 L916.9,551.6 L917.3,550.7 L918.2,550.6 L918.6,550.9 L918.9,552.1 L919.2,554.4 L919.7,561.3 L919.7,580.8 L920.3,580.8 L920.3,581.0 L920.4,580.8 L920.9,580.8 L921.1,566.0 L921.6,555.0 L922.7,550.3 L925.0,550.3 L925.2,550.8 L925.2,551.8 L925.6,551.8 L925.8,552.1 L926.0,551.8 L926.4,551.8 L926.4,550.8 L926.7,550.3 L944.1,550.3 L944.7,560.9 L945.3,584.9 L945.4,596.3 L946.5,596.3 L946.6,585.8 L947.3,559.5 L948.3,550.3 L958.0,550.3 L958.8,558.3 L958.9,565.3 L959.4,565.3 L959.5,565.5 L959.5,565.3 L960.0,565.3 L960.2,560.8 L960.6,556.3 L961.3,556.3 L963.0,626.3 L963.4,665.3 L964.3,665.5 L964.5,665.3 L964.6,644.6 L965.3,584.0 L966.0,559.6 L966.2,557.8 L966.3,554.3 L966.8,554.3 L966.9,556.8 L967.3,556.8 L967.5,557.1 L967.6,556.8 L968.0,556.8 L968.3,554.6 L969.6,553.0 L970.8,550.5 L973.3,550.3 L991.3,550.3 L992.5,563.2 L992.7,569.3 L993.3,569.4 L993.4,569.3 L993.9,569.3 L993.9,562.2 L995.0,552.1 L996.3,550.3 L1019.1,550.3 L1020.3,576.7 L1020.5,595.3 L1021.1,595.3 L1021.1,595.6 L1021.2,595.3 L1021.7,595.3 L1021.7,572.7 L1022.1,563.8 L1022.6,558.3 L1023.1,556.6 L1023.3,556.3 L1023.8,556.3 L1024.2,556.8 L1024.5,558.4 L1024.8,563.2 L1024.9,585.8 L1025.4,585.8 L1025.5,586.0 L1025.5,585.8 L1026.0,585.8 L1026.2,566.5 L1026.8,556.2 L1027.8,550.5 L1033.3,550.3 L1033.5,550.8 L1033.6,551.8 L1034.0,551.8 L1034.1,552.1 L1034.3,551.8 L1034.7,551.8 L1034.8,550.8 L1035.0,550.3 L1037.0,550.3 L1037.3,551.5 L1037.4,553.8 L1038.5,553.8 L1038.6,551.5 L1038.8,550.5 L1040.5,550.3 L1041.1,556.2 L1041.8,565.8 L1041.9,573.8 L1042.5,573.8 L1043.0,573.8 L1043.1,566.0 L1044.0,553.0 L1045.0,550.3 L1047.5,550.3 L1048.3,555.6 L1048.4,559.3 L1048.9,559.3 L1049.0,559.6 L1049.1,559.3 L1049.5,559.3 L1049.6,555.7 L1050.7,550.3 L1071.3,550.3 L1072.2,558.1 L1072.2,563.3 L1072.7,563.3 L1072.8,563.7 L1072.9,563.3 L1073.4,563.3 L1073.4,558.3 L1074.5,550.6 L1075.8,550.3 L1076.0,550.8 L1076.1,551.8 L1076.5,551.8 L1076.6,552.1 L1076.8,551.8 L1077.2,551.8 L1077.3,551.0 L1077.7,550.3 L1093.3,550.3 L1093.8,555.0 L1093.9,560.8 L1094.4,560.8 L1094.5,561.0 L1094.5,560.8 L1095.0,560.8 L1095.1,555.3 L1096.0,550.3 L1120.8,550.2 L1122.0,550.8 L1123.3,550.1 L1158.7,550.1 L1158.7,550.1 L1158.7,803.0 Z" fill="#040404"/>
<rect x="650.8" y="548.8" width="507.9" height="254.2" fill="none" stroke="#151515" stroke-width="1.25"/>
<text x="645.2" y="552.7" text-anchor="end" font-family='"Liberation Sans", sans-serif' font-size="18.70" textLength="26.3" lengthAdjust="spacingAndGlyphs" fill="#111">1.0</text>
<text x="645.2" y="603.4" text-anchor="end" font-family='"Liberation Sans", sans-serif' font-size="18.70" textLength="26.3" lengthAdjust="spacingAndGlyphs" fill="#111">0.8</text>
<text x="645.2" y="654.1" text-anchor="end" font-family='"Liberation Sans", sans-serif' font-size="18.70" textLength="26.3" lengthAdjust="spacingAndGlyphs" fill="#111">0.6</text>
<text x="645.2" y="704.8" text-anchor="end" font-family='"Liberation Sans", sans-serif' font-size="18.70" textLength="26.3" lengthAdjust="spacingAndGlyphs" fill="#111">0.4</text>
<text x="645.2" y="755.5" text-anchor="end" font-family='"Liberation Sans", sans-serif' font-size="18.70" textLength="26.3" lengthAdjust="spacingAndGlyphs" fill="#111">0.2</text>
<text x="645.2" y="806.2" text-anchor="end" font-family='"Liberation Sans", sans-serif' font-size="18.70" textLength="26.3" lengthAdjust="spacingAndGlyphs" fill="#111">0.0</text>
<text transform="translate(604.9,678.6) rotate(-90)" text-anchor="middle" font-family='"Liberation Sans", sans-serif' font-size="18.70" textLength="91.5" lengthAdjust="spacingAndGlyphs" fill="#111">Probability</text>
<text transform="translate(664.2,809.3) rotate(-90)" text-anchor="end" font-family='"Liberation Sans", sans-serif' font-size="18.70" textLength="55.3" lengthAdjust="spacingAndGlyphs" fill="#111">Oct 10</text>
<text transform="translate(691.4,809.3) rotate(-90)" text-anchor="end" font-family='"Liberation Sans", sans-serif' font-size="18.70" textLength="48.1" lengthAdjust="spacingAndGlyphs" fill="#111">Jul 11</text>
<text transform="translate(718.6,809.3) rotate(-90)" text-anchor="end" font-family='"Liberation Sans", sans-serif' font-size="18.70" textLength="56.0" lengthAdjust="spacingAndGlyphs" fill="#111">Apr 12</text>
<text transform="translate(745.7,809.3) rotate(-90)" text-anchor="end" font-family='"Liberation Sans", sans-serif' font-size="18.70" textLength="53.3" lengthAdjust="spacingAndGlyphs" fill="#111">Jan 13</text>
<text transform="translate(772.9,809.3) rotate(-90)" text-anchor="end" font-family='"Liberation Sans", sans-serif' font-size="18.70" textLength="59.6" lengthAdjust="spacingAndGlyphs" fill="#111">Nov 13</text>
<text transform="translate(800.1,809.3) rotate(-90)" text-anchor="end" font-family='"Liberation Sans", sans-serif' font-size="18.70" textLength="58.6" lengthAdjust="spacingAndGlyphs" fill="#111">Aug 14</text>
<text transform="translate(827.2,809.3) rotate(-90)" text-anchor="end" font-family='"Liberation Sans", sans-serif' font-size="18.70" textLength="63.0" lengthAdjust="spacingAndGlyphs" fill="#111">May 15</text>
<text transform="translate(854.4,809.3) rotate(-90)" text-anchor="end" font-family='"Liberation Sans", sans-serif' font-size="18.70" textLength="56.6" lengthAdjust="spacingAndGlyphs" fill="#111">Feb 16</text>
<text transform="translate(881.5,809.3) rotate(-90)" text-anchor="end" font-family='"Liberation Sans", sans-serif' font-size="18.70" textLength="59.6" lengthAdjust="spacingAndGlyphs" fill="#111">Nov 16</text>
<text transform="translate(908.7,809.3) rotate(-90)" text-anchor="end" font-family='"Liberation Sans", sans-serif' font-size="18.70" textLength="56.6" lengthAdjust="spacingAndGlyphs" fill="#111">Sep 17</text>
<text transform="translate(935.9,809.3) rotate(-90)" text-anchor="end" font-family='"Liberation Sans", sans-serif' font-size="18.70" textLength="54.3" lengthAdjust="spacingAndGlyphs" fill="#111">Jun 18</text>
<text transform="translate(963.0,809.3) rotate(-90)" text-anchor="end" font-family='"Liberation Sans", sans-serif' font-size="18.70" textLength="60.8" lengthAdjust="spacingAndGlyphs" fill="#111">Mar 19</text>
<text transform="translate(990.2,809.3) rotate(-90)" text-anchor="end" font-family='"Liberation Sans", sans-serif' font-size="18.70" textLength="57.7" lengthAdjust="spacingAndGlyphs" fill="#111">Dec 19</text>
<text transform="translate(1017.3,809.3) rotate(-90)" text-anchor="end" font-family='"Liberation Sans", sans-serif' font-size="18.70" textLength="56.6" lengthAdjust="spacingAndGlyphs" fill="#111">Sep 20</text>
<text transform="translate(1044.5,809.3) rotate(-90)" text-anchor="end" font-family='"Liberation Sans", sans-serif' font-size="18.70" textLength="48.1" lengthAdjust="spacingAndGlyphs" fill="#111">Jul 21</text>
<text transform="translate(1071.7,809.3) rotate(-90)" text-anchor="end" font-family='"Liberation Sans", sans-serif' font-size="18.70" textLength="56.0" lengthAdjust="spacingAndGlyphs" fill="#111">Apr 22</text>
<text transform="translate(1098.8,809.3) rotate(-90)" text-anchor="end" font-family='"Liberation Sans", sans-serif' font-size="18.70" textLength="53.3" lengthAdjust="spacingAndGlyphs" fill="#111">Jan 23</text>
<text transform="translate(1126.0,809.3) rotate(-90)" text-anchor="end" font-family='"Liberation Sans", sans-serif' font-size="18.70" textLength="55.3" lengthAdjust="spacingAndGlyphs" fill="#111">Oct 23</text>
<text transform="translate(1153.1,809.3) rotate(-90)" text-anchor="end" font-family='"Liberation Sans", sans-serif' font-size="18.70" textLength="48.1" lengthAdjust="spacingAndGlyphs" fill="#111">Jul 24</text>
<rect x="807.5" y="895.0" width="20.0" height="21.0" fill="#000"/>
<rect x="808.0" y="925.5" width="19.0" height="20.0" fill="#ffff00" stroke="#7a7a00" stroke-width="1"/>
<text x="835.5" y="911.0" font-family='"Liberation Sans", sans-serif' font-size="18.70" textLength="162.9" lengthAdjust="spacingAndGlyphs" fill="#111">Low volatility state</text>
<text x="835.5" y="940.0" font-family='"Liberation Sans", sans-serif' font-size="18.70" textLength="166.9" lengthAdjust="spacingAndGlyphs" fill="#111">High volatility state</text>
</g>
<g id="panelE">
<text x="118.3" y="1017.9" font-family='"Liberation Serif", serif' font-size="23.5" textLength="333.4" lengthAdjust="spacingAndGlyphs" fill="#000" stroke="#000" stroke-width="0.25">Panel E. Standard MS, Thursday</text>
<rect x="64.2" y="1048.5" width="508.0" height="254.2" fill="#ffff00"/>
<path d="M64.2,1302.7 L64.2,1302.2 L65.0,1302.2 L65.9,1174.0 L66.9,1095.5 L67.7,1064.7 L68.2,1056.5 L68.7,1052.0 L69.5,1052.0 L70.0,1058.4 L70.9,1092.8 L71.7,1175.3 L72.5,1302.2 L75.8,1302.2 L77.0,1213.3 L78.3,1158.7 L78.9,1142.1 L79.6,1131.3 L80.1,1127.5 L80.7,1124.5 L81.5,1124.5 L81.8,1127.8 L82.0,1134.9 L82.5,1164.4 L83.3,1302.2 L85.0,1302.2 L85.6,1116.1 L86.0,1072.6 L86.4,1053.0 L87.1,1053.0 L87.7,1060.4 L88.2,1075.1 L88.6,1098.2 L89.5,1174.8 L90.3,1302.2 L97.0,1302.2 L97.5,1209.7 L98.3,1113.7 L98.7,1085.1 L98.7,1054.5 L99.5,1054.5 L99.5,1055.0 L99.7,1073.6 L100.0,1084.7 L101.0,1086.3 L104.0,1218.0 L104.4,1251.0 L104.9,1251.0 L105.0,1251.4 L105.0,1251.0 L105.5,1251.0 L105.6,1172.9 L106.2,1146.5 L106.3,1146.0 L107.0,1146.0 L107.7,1193.4 L108.3,1302.2 L109.6,1302.2 L110.0,1221.3 L110.5,1181.0 L111.2,1181.0 L111.6,1188.4 L111.9,1232.0 L112.4,1232.0 L112.5,1232.2 L112.5,1232.0 L113.0,1232.0 L113.1,1175.2 L113.3,1166.0 L114.0,1166.0 L114.5,1184.2 L114.9,1216.8 L115.3,1302.0 L115.5,1302.2 L116.3,1302.2 L116.4,1302.0 L116.5,1295.0 L116.8,1160.9 L117.3,1099.5 L118.1,1099.5 L118.5,1109.5 L118.9,1124.5 L119.0,1192.5 L120.2,1192.5 L120.4,1138.0 L121.0,1093.0 L121.6,1063.8 L122.5,1053.0 L124.2,1050.5 L132.5,1050.5 L133.3,1059.7 L134.6,1064.6 L135.3,1077.2 L137.7,1210.0 L137.7,1211.0 L138.2,1211.0 L138.3,1211.4 L138.4,1211.0 L138.9,1211.0 L138.9,1179.0 L139.5,1126.3 L140.0,1084.7 L140.5,1059.7 L141.3,1051.3 L150.0,1050.5 L150.8,1060.2 L152.5,1118.0 L153.3,1139.9 L154.1,1151.1 L155.8,1218.9 L157.3,1288.2 L158.3,1302.2 L161.3,1302.2 L161.3,1301.6 L162.0,1276.4 L164.1,1094.3 L165.0,1056.0 L165.1,1055.5 L165.8,1055.5 L165.9,1065.5 L166.3,1077.3 L168.6,1220.7 L168.9,1252.0 L169.4,1252.0 L169.5,1252.2 L169.5,1252.0 L170.0,1252.0 L170.1,1196.4 L170.5,1143.0 L171.0,1093.0 L171.6,1063.8 L172.5,1052.2 L175.8,1051.0 L175.8,1051.2 L176.6,1059.5 L177.5,1093.0 L179.7,1285.6 L180.3,1302.2 L183.0,1302.2 L183.8,1164.1 L184.5,1109.7 L185.3,1076.0 L186.3,1054.6 L187.0,1052.6 L187.1,1051.0 L187.8,1051.0 L187.9,1052.2 L188.5,1053.4 L188.6,1054.5 L189.2,1054.6 L189.7,1054.5 L189.8,1054.0 L190.8,1053.0 L192.0,1054.7 L192.8,1068.5 L193.6,1092.5 L194.3,1144.7 L195.2,1224.3 L195.2,1270.5 L195.8,1270.5 L196.4,1270.5 L196.4,1270.0 L196.6,1270.0 L196.8,1269.5 L197.3,1141.3 L198.3,1065.0 L198.3,1062.9 L198.7,1059.7 L198.8,1056.0 L199.5,1056.0 L199.7,1058.5 L200.1,1058.5 L200.3,1058.8 L200.4,1058.5 L200.8,1058.5 L200.9,1056.7 L201.7,1053.8 L203.6,1052.2 L205.8,1051.0 L208.3,1052.2 L210.8,1051.3 L213.3,1051.0 L215.0,1051.3 L215.7,1053.5 L215.7,1055.0 L216.1,1055.0 L216.3,1055.5 L216.5,1055.0 L216.9,1055.0 L217.0,1053.6 L217.5,1052.2 L219.1,1051.0 L220.3,1056.2 L221.0,1076.3 L221.7,1129.7 L221.9,1210.5 L223.0,1210.5 L223.2,1140.5 L223.8,1092.2 L224.5,1059.7 L224.9,1056.1 L224.9,1052.0 L225.7,1052.0 L225.9,1054.3 L226.3,1056.4 L226.4,1059.5 L226.9,1059.5 L227.0,1059.7 L227.0,1059.5 L227.5,1059.5 L227.6,1056.7 L228.0,1054.7 L229.1,1051.4 L230.8,1050.5 L248.3,1050.5 L248.3,1050.7 L249.1,1059.5 L250.0,1109.7 L250.8,1194.5 L250.9,1251.0 L251.4,1251.0 L251.5,1251.4 L251.5,1251.0 L252.0,1251.0 L252.1,1198.9 L252.8,1125.3 L253.6,1077.3 L254.6,1056.7 L255.8,1052.2 L258.3,1051.0 L268.3,1051.1 L269.6,1059.6 L269.7,1061.3 L270.3,1094.3 L272.4,1253.4 L272.7,1290.0 L273.2,1290.0 L273.3,1290.4 L273.3,1290.0 L273.8,1290.0 L273.9,1289.5 L273.9,1231.2 L275.3,1092.3 L276.1,1060.3 L277.5,1051.3 L291.6,1051.0 L293.3,1053.0 L295.8,1052.2 L300.0,1051.3 L301.6,1053.8 L303.0,1059.7 L303.6,1084.0 L304.3,1127.6 L305.7,1225.4 L305.9,1262.0 L306.4,1262.0 L306.5,1262.2 L306.5,1262.0 L307.0,1262.0 L307.1,1214.9 L307.8,1162.2 L308.7,1108.3 L309.9,1065.5 L309.9,1054.0 L310.7,1054.0 L310.8,1062.6 L312.0,1093.0 L312.6,1125.5 L313.7,1203.9 L314.0,1253.0 L314.6,1253.0 L314.6,1253.2 L314.7,1253.0 L315.2,1253.0 L315.2,1162.9 L315.6,1128.9 L316.2,1106.5 L316.2,1106.0 L316.7,1106.0 L316.7,1151.0 L317.9,1151.0 L318.1,1109.5 L318.7,1094.4 L318.8,1085.0 L319.2,1085.0 L319.4,1096.0 L319.9,1096.0 L320.0,1096.3 L320.0,1096.0 L320.5,1096.0 L320.6,1078.3 L320.9,1072.8 L320.9,1066.5 L321.7,1066.5 L321.7,1072.6 L322.0,1076.3 L322.6,1078.8 L322.7,1081.2 L324.8,1251.4 L325.2,1300.0 L325.7,1300.0 L325.8,1300.3 L325.8,1300.0 L326.3,1300.0 L326.4,1187.4 L327.0,1111.2 L327.6,1069.0 L328.0,1059.1 L328.4,1054.9 L328.6,1054.7 L329.1,1054.7 L329.8,1055.4 L330.3,1056.9 L330.8,1059.3 L332.0,1069.7 L332.0,1078.5 L332.1,1079.0 L332.6,1079.0 L332.6,1079.4 L332.7,1079.0 L333.2,1079.0 L333.3,1068.6 L334.0,1058.0 L335.0,1057.2 L336.3,1058.0 L339.1,1052.2 L340.8,1051.4 L343.3,1052.2 L345.0,1053.0 L346.3,1062.3 L346.4,1067.0 L346.9,1067.0 L347.0,1067.2 L347.0,1067.0 L347.5,1067.0 L347.6,1062.7 L349.0,1053.0 L350.3,1051.3 L356.6,1051.0 L358.0,1056.3 L359.3,1064.1 L359.4,1068.0 L360.5,1068.0 L360.6,1066.0 L361.1,1066.0 L361.2,1070.7 L362.0,1082.5 L362.2,1090.5 L362.4,1092.0 L362.9,1092.0 L363.0,1092.2 L363.0,1092.0 L363.5,1092.0 L363.6,1070.4 L364.3,1054.6 L365.3,1051.3 L370.8,1051.0 L372.0,1056.3 L372.2,1065.0 L372.7,1065.0 L372.8,1065.3 L372.9,1065.0 L373.4,1065.0 L373.4,1057.5 L373.7,1054.0 L373.8,1053.0 L374.6,1053.0 L374.6,1056.2 L375.0,1059.7 L376.3,1110.4 L376.4,1140.5 L377.0,1140.5 L377.5,1140.5 L377.6,1112.8 L378.3,1075.9 L379.0,1059.7 L380.0,1056.3 L381.6,1053.0 L383.3,1051.3 L389.1,1053.0 L390.0,1060.0 L390.2,1064.5 L391.4,1064.5 L391.4,1059.5 L392.0,1059.5 L392.2,1084.0 L392.8,1084.0 L392.8,1084.3 L392.9,1084.0 L393.4,1084.0 L393.5,1071.3 L394.3,1056.3 L395.3,1052.2 L397.5,1050.5 L400.0,1052.2 L402.5,1053.0 L403.6,1056.3 L404.3,1069.0 L405.0,1109.7 L405.7,1203.0 L405.7,1294.5 L406.3,1294.6 L406.9,1294.5 L407.0,1214.1 L407.8,1108.3 L408.3,1067.8 L409.1,1056.6 L409.5,1055.0 L409.6,1053.0 L410.2,1053.0 L410.2,1057.5 L410.7,1057.5 L410.8,1057.9 L410.9,1057.5 L411.4,1057.5 L411.5,1054.9 L412.0,1053.0 L413.3,1051.3 L416.6,1051.0 L418.3,1052.2 L419.3,1053.1 L419.3,1053.5 L419.6,1053.5 L420.0,1053.8 L420.2,1053.5 L420.5,1053.5 L420.5,1053.0 L421.7,1051.3 L425.0,1051.0 L426.6,1053.0 L429.1,1053.8 L430.3,1056.3 L430.3,1056.7 L431.1,1075.9 L433.3,1215.9 L434.8,1293.5 L435.2,1301.0 L435.8,1301.0 L436.3,1301.0 L436.4,1211.2 L436.8,1170.3 L437.3,1149.9 L437.6,1143.0 L438.3,1143.0 L438.5,1145.8 L438.5,1171.0 L439.7,1171.0 L439.7,1170.5 L439.8,1142.0 L440.5,1101.3 L441.3,1071.3 L442.5,1066.3 L443.3,1056.3 L444.4,1053.7 L444.4,1053.0 L445.2,1053.0 L445.2,1053.6 L446.3,1054.7 L446.8,1056.9 L446.9,1059.5 L447.4,1059.5 L447.5,1059.7 L447.5,1059.5 L448.0,1059.5 L448.1,1057.1 L448.6,1054.7 L450.0,1052.2 L451.8,1051.6 L451.9,1051.0 L452.6,1051.0 L452.7,1052.2 L453.7,1056.9 L454.7,1073.5 L455.0,1082.0 L455.0,1082.5 L455.6,1082.5 L455.6,1082.9 L455.7,1082.5 L456.2,1082.5 L456.2,1065.6 L457.1,1053.6 L457.4,1052.1 L457.8,1051.4 L458.3,1051.4 L460.0,1052.2 L460.8,1060.2 L461.7,1084.4 L461.7,1102.0 L462.3,1102.0 L462.3,1102.2 L462.4,1102.0 L462.9,1102.0 L463.0,1084.7 L463.6,1063.5 L464.7,1053.0 L466.7,1051.3 L472.5,1053.0 L473.7,1056.7 L473.9,1059.5 L474.4,1059.5 L474.5,1059.7 L474.5,1059.5 L475.0,1059.5 L475.1,1056.1 L475.3,1054.9 L476.6,1051.4 L480.0,1051.0 L481.3,1054.8 L482.7,1066.7 L482.9,1073.0 L484.0,1073.0 L484.2,1058.0 L485.0,1058.0 L485.6,1108.3 L486.0,1154.1 L486.0,1234.0 L486.6,1234.0 L486.6,1234.4 L486.7,1234.0 L487.2,1234.0 L487.2,1232.0 L487.3,1158.6 L487.6,1111.9 L488.3,1067.8 L489.3,1054.6 L490.8,1051.4 L500.0,1051.0 L506.6,1051.3 L510.0,1052.2 L511.3,1054.6 L512.5,1081.8 L512.7,1099.0 L513.3,1099.1 L513.9,1099.0 L513.9,1078.1 L514.6,1060.1 L515.7,1052.1 L517.5,1051.0 L520.8,1051.3 L522.1,1055.1 L522.2,1057.5 L522.7,1057.5 L522.8,1057.9 L522.9,1057.5 L523.4,1057.5 L523.4,1054.3 L523.6,1053.1 L525.0,1051.0 L532.5,1051.0 L533.6,1053.0 L534.5,1057.4 L534.7,1060.0 L535.2,1060.0 L535.3,1060.4 L535.4,1060.0 L535.8,1060.0 L535.9,1056.5 L536.1,1054.8 L537.1,1051.9 L537.2,1051.0 L537.9,1051.0 L538.0,1051.5 L540.0,1052.2 L542.5,1051.3 L545.0,1052.2 L546.7,1058.7 L546.9,1062.5 L547.4,1062.5 L547.5,1062.7 L547.5,1062.5 L548.0,1062.5 L548.1,1058.1 L548.3,1056.3 L549.3,1052.3 L550.8,1051.0 L572.2,1050.7 L572.2,1050.7 L572.2,1302.7 Z" fill="#040404"/>
<rect x="64.2" y="1048.5" width="508.0" height="254.2" fill="none" stroke="#151515" stroke-width="1.25"/>
<text x="58.6" y="1053.0" text-anchor="end" font-family='"Liberation Sans", sans-serif' font-size="18.70" textLength="26.3" lengthAdjust="spacingAndGlyphs" fill="#111">1.0</text>
<text x="58.6" y="1103.4" text-anchor="end" font-family='"Liberation Sans", sans-serif' font-size="18.70" textLength="26.3" lengthAdjust="spacingAndGlyphs" fill="#111">0.8</text>
<text x="58.6" y="1153.9" text-anchor="end" font-family='"Liberation Sans", sans-serif' font-size="18.70" textLength="26.3" lengthAdjust="spacingAndGlyphs" fill="#111">0.6</text>
<text x="58.6" y="1204.4" text-anchor="end" font-family='"Liberation Sans", sans-serif' font-size="18.70" textLength="26.3" lengthAdjust="spacingAndGlyphs" fill="#111">0.4</text>
<text x="58.6" y="1254.9" text-anchor="end" font-family='"Liberation Sans", sans-serif' font-size="18.70" textLength="26.3" lengthAdjust="spacingAndGlyphs" fill="#111">0.2</text>
<text x="58.6" y="1305.4" text-anchor="end" font-family='"Liberation Sans", sans-serif' font-size="18.70" textLength="26.3" lengthAdjust="spacingAndGlyphs" fill="#111">0.0</text>
<text transform="translate(16.0,1176.2) rotate(-90)" text-anchor="middle" font-family='"Liberation Sans", sans-serif' font-size="18.70" textLength="91.5" lengthAdjust="spacingAndGlyphs" fill="#111">Probability</text>
<text transform="translate(77.7,1309.0) rotate(-90)" text-anchor="end" font-family='"Liberation Sans", sans-serif' font-size="18.70" textLength="55.3" lengthAdjust="spacingAndGlyphs" fill="#111">Oct 10</text>
<text transform="translate(104.8,1309.0) rotate(-90)" text-anchor="end" font-family='"Liberation Sans", sans-serif' font-size="18.70" textLength="48.1" lengthAdjust="spacingAndGlyphs" fill="#111">Jul 11</text>
<text transform="translate(132.0,1309.0) rotate(-90)" text-anchor="end" font-family='"Liberation Sans", sans-serif' font-size="18.70" textLength="56.0" lengthAdjust="spacingAndGlyphs" fill="#111">Apr 12</text>
<text transform="translate(159.1,1309.0) rotate(-90)" text-anchor="end" font-family='"Liberation Sans", sans-serif' font-size="18.70" textLength="53.3" lengthAdjust="spacingAndGlyphs" fill="#111">Jan 13</text>
<text transform="translate(186.3,1309.0) rotate(-90)" text-anchor="end" font-family='"Liberation Sans", sans-serif' font-size="18.70" textLength="59.6" lengthAdjust="spacingAndGlyphs" fill="#111">Nov 13</text>
<text transform="translate(213.5,1309.0) rotate(-90)" text-anchor="end" font-family='"Liberation Sans", sans-serif' font-size="18.70" textLength="58.6" lengthAdjust="spacingAndGlyphs" fill="#111">Aug 14</text>
<text transform="translate(240.6,1309.0) rotate(-90)" text-anchor="end" font-family='"Liberation Sans", sans-serif' font-size="18.70" textLength="63.0" lengthAdjust="spacingAndGlyphs" fill="#111">May 15</text>
<text transform="translate(267.8,1309.0) rotate(-90)" text-anchor="end" font-family='"Liberation Sans", sans-serif' font-size="18.70" textLength="56.6" lengthAdjust="spacingAndGlyphs" fill="#111">Feb 16</text>
<text transform="translate(295.0,1309.0) rotate(-90)" text-anchor="end" font-family='"Liberation Sans", sans-serif' font-size="18.70" textLength="57.7" lengthAdjust="spacingAndGlyphs" fill="#111">Dec 16</text>
<text transform="translate(322.1,1309.0) rotate(-90)" text-anchor="end" font-family='"Liberation Sans", sans-serif' font-size="18.70" textLength="56.6" lengthAdjust="spacingAndGlyphs" fill="#111">Sep 17</text>
<text transform="translate(349.3,1309.0) rotate(-90)" text-anchor="end" font-family='"Liberation Sans", sans-serif' font-size="18.70" textLength="54.3" lengthAdjust="spacingAndGlyphs" fill="#111">Jun 18</text>
<text transform="translate(376.5,1309.0) rotate(-90)" text-anchor="end" font-family='"Liberation Sans", sans-serif' font-size="18.70" textLength="60.8" lengthAdjust="spacingAndGlyphs" fill="#111">Mar 19</text>
<text transform="translate(403.6,1309.0) rotate(-90)" text-anchor="end" font-family='"Liberation Sans", sans-serif' font-size="18.70" textLength="57.7" lengthAdjust="spacingAndGlyphs" fill="#111">Dec 19</text>
<text transform="translate(430.8,1309.0) rotate(-90)" text-anchor="end" font-family='"Liberation Sans", sans-serif' font-size="18.70" textLength="55.3" lengthAdjust="spacingAndGlyphs" fill="#111">Oct 20</text>
<text transform="translate(458.0,1309.0) rotate(-90)" text-anchor="end" font-family='"Liberation Sans", sans-serif' font-size="18.70" textLength="48.1" lengthAdjust="spacingAndGlyphs" fill="#111">Jul 21</text>
<text transform="translate(485.1,1309.0) rotate(-90)" text-anchor="end" font-family='"Liberation Sans", sans-serif' font-size="18.70" textLength="56.0" lengthAdjust="spacingAndGlyphs" fill="#111">Apr 22</text>
<text transform="translate(512.3,1309.0) rotate(-90)" text-anchor="end" font-family='"Liberation Sans", sans-serif' font-size="18.70" textLength="53.3" lengthAdjust="spacingAndGlyphs" fill="#111">Jan 23</text>
<text transform="translate(539.5,1309.0) rotate(-90)" text-anchor="end" font-family='"Liberation Sans", sans-serif' font-size="18.70" textLength="55.3" lengthAdjust="spacingAndGlyphs" fill="#111">Oct 23</text>
<text transform="translate(566.6,1309.0) rotate(-90)" text-anchor="end" font-family='"Liberation Sans", sans-serif' font-size="18.70" textLength="58.6" lengthAdjust="spacingAndGlyphs" fill="#111">Aug 24</text>
<rect x="220.9" y="1394.0" width="20.0" height="21.0" fill="#000"/>
<rect x="221.4" y="1424.5" width="19.0" height="20.0" fill="#ffff00" stroke="#7a7a00" stroke-width="1"/>
<text x="248.9" y="1410.0" font-family='"Liberation Sans", sans-serif' font-size="18.70" textLength="162.9" lengthAdjust="spacingAndGlyphs" fill="#111">Low volatility state</text>
<text x="248.9" y="1439.0" font-family='"Liberation Sans", sans-serif' font-size="18.70" textLength="166.9" lengthAdjust="spacingAndGlyphs" fill="#111">High volatility state</text>
</g>
<g id="panelF">
<text x="703.3" y="1017.9" font-family='"Liberation Serif", serif' font-size="23.5" textLength="336.0" lengthAdjust="spacingAndGlyphs" fill="#000" stroke="#000" stroke-width="0.25">Panel F. MS–GARCH, Thursday</text>
<rect x="653.3" y="1048.5" width="508.4" height="254.2" fill="#ffff00"/>
<path d="M653.3,1302.7 L653.3,1165.5 L655.0,1076.3 L656.3,1054.6 L657.0,1052.2 L657.2,1050.0 L658.0,1050.0 L658.0,1053.8 L658.6,1059.5 L659.3,1094.7 L661.0,1259.9 L661.1,1299.5 L661.6,1299.5 L661.6,1299.7 L661.7,1299.5 L662.2,1299.5 L664.1,1144.3 L665.0,1093.0 L665.8,1062.9 L666.7,1057.4 L666.7,1055.5 L667.5,1055.5 L667.5,1056.2 L668.3,1057.3 L669.3,1068.8 L670.0,1101.3 L671.9,1259.3 L671.9,1296.0 L672.4,1296.0 L672.5,1296.4 L672.6,1296.0 L673.1,1296.0 L673.3,1293.0 L673.5,1209.7 L674.1,1144.7 L675.0,1084.7 L675.9,1051.5 L675.9,1050.5 L676.7,1050.5 L677.6,1092.2 L679.7,1285.4 L680.3,1299.7 L680.7,1300.5 L681.0,1302.0 L681.5,1302.0 L681.6,1302.2 L681.7,1302.0 L682.2,1302.0 L682.2,1290.1 L682.9,1286.0 L683.6,1286.0 L683.9,1287.5 L684.0,1301.5 L685.2,1301.5 L686.3,1125.3 L687.0,1084.7 L688.0,1059.7 L689.1,1052.3 L690.3,1051.2 L690.4,1050.5 L691.1,1050.5 L691.2,1051.4 L692.5,1053.8 L693.6,1059.6 L694.5,1093.0 L695.5,1158.6 L695.7,1202.0 L696.3,1202.0 L696.3,1202.4 L696.4,1202.0 L696.9,1202.0 L696.9,1148.0 L697.3,1108.8 L698.0,1076.3 L698.7,1057.9 L699.0,1056.7 L699.2,1054.5 L700.0,1054.5 L700.0,1059.8 L700.6,1067.8 L701.6,1092.6 L702.3,1132.6 L703.6,1249.9 L703.7,1294.0 L704.3,1294.0 L704.3,1294.2 L704.4,1294.0 L704.9,1294.0 L704.9,1247.0 L706.0,1109.7 L706.6,1069.0 L707.5,1056.3 L708.6,1053.0 L710.8,1050.5 L721.6,1050.1 L723.0,1056.3 L724.2,1065.1 L725.0,1076.3 L725.5,1090.1 L725.7,1102.5 L726.9,1102.5 L726.9,1086.0 L727.6,1063.5 L728.7,1052.9 L730.0,1050.5 L740.0,1050.1 L740.8,1060.0 L742.6,1092.7 L744.6,1109.5 L747.3,1268.7 L747.4,1295.5 L748.5,1295.5 L750.0,1159.7 L750.8,1111.7 L751.6,1077.0 L752.6,1058.3 L753.6,1050.9 L755.0,1050.1 L756.3,1054.8 L757.6,1063.4 L757.7,1067.5 L758.2,1067.5 L758.3,1067.9 L758.4,1067.5 L758.9,1067.5 L758.9,1062.9 L760.3,1052.1 L761.7,1050.1 L765.0,1050.1 L766.0,1059.7 L766.6,1092.2 L768.6,1241.8 L769.7,1300.5 L769.7,1301.5 L770.2,1301.5 L770.3,1301.7 L770.4,1301.5 L770.9,1301.5 L770.9,1283.1 L771.2,1271.9 L772.7,1108.0 L773.3,1076.0 L774.1,1060.0 L775.3,1052.2 L777.5,1050.5 L781.6,1050.8 L783.0,1056.3 L783.6,1067.7 L784.7,1093.8 L784.9,1112.0 L785.4,1112.0 L785.5,1112.2 L785.5,1112.0 L786.0,1112.0 L786.1,1089.3 L786.6,1068.6 L787.5,1056.3 L788.6,1053.9 L790.0,1052.2 L792.5,1050.8 L795.8,1050.5 L804.1,1050.5 L805.3,1053.1 L805.4,1055.5 L806.5,1055.5 L806.6,1053.3 L807.0,1052.2 L807.8,1051.3 L807.8,1050.5 L808.6,1050.5 L808.6,1054.1 L809.2,1060.7 L810.0,1084.7 L810.6,1107.2 L810.7,1126.5 L811.3,1126.5 L811.9,1126.5 L811.9,1103.3 L812.7,1067.3 L813.3,1054.6 L813.9,1052.5 L813.9,1050.5 L814.7,1050.5 L814.8,1051.8 L815.6,1053.5 L815.7,1054.5 L816.3,1054.6 L816.8,1054.5 L816.9,1052.8 L817.5,1050.8 L819.1,1050.2 L837.5,1050.2 L838.3,1060.3 L839.1,1092.3 L840.3,1149.7 L840.5,1178.0 L841.1,1178.0 L841.1,1178.5 L841.2,1178.0 L841.7,1178.0 L841.7,1136.1 L842.1,1102.7 L842.6,1069.1 L843.3,1054.6 L844.3,1050.5 L858.3,1050.2 L859.3,1060.5 L861.6,1186.4 L861.8,1210.0 L861.9,1212.0 L862.4,1212.0 L862.5,1212.2 L862.5,1212.0 L863.0,1212.0 L863.1,1166.3 L864.0,1084.7 L864.6,1060.3 L865.6,1050.9 L866.7,1050.2 L880.0,1050.2 L883.3,1050.8 L890.8,1050.6 L892.0,1056.3 L893.0,1076.3 L894.6,1122.6 L895.2,1134.0 L895.5,1136.0 L896.0,1136.0 L896.1,1136.3 L896.2,1136.0 L896.7,1136.0 L896.7,1092.3 L897.6,1060.3 L898.0,1054.2 L898.4,1051.2 L898.7,1050.6 L899.2,1050.5 L899.8,1050.7 L900.1,1051.2 L900.7,1053.7 L901.1,1058.2 L901.9,1074.2 L902.7,1102.9 L902.7,1140.5 L903.3,1140.6 L903.9,1140.5 L904.0,1107.8 L905.3,1064.5 L906.3,1054.6 L906.8,1053.4 L906.9,1052.0 L907.7,1052.0 L907.7,1053.9 L908.7,1057.6 L908.7,1059.5 L909.3,1059.6 L909.9,1059.5 L910.0,1058.0 L910.7,1058.0 L910.7,1058.7 L911.3,1059.6 L912.0,1076.3 L914.4,1254.5 L914.7,1298.0 L915.8,1298.0 L915.9,1227.5 L916.8,1108.3 L917.3,1070.8 L918.0,1054.7 L918.9,1051.7 L918.9,1050.5 L919.7,1050.5 L919.7,1051.1 L921.0,1051.8 L921.1,1052.0 L921.6,1052.2 L922.2,1052.0 L922.3,1051.8 L924.2,1050.8 L934.1,1050.2 L935.0,1053.0 L935.7,1056.5 L935.9,1059.5 L936.4,1059.5 L936.5,1059.7 L936.5,1059.5 L937.0,1059.5 L937.1,1056.1 L938.3,1050.5 L946.6,1050.2 L947.8,1053.4 L947.9,1055.5 L949.0,1055.5 L949.1,1052.0 L949.8,1052.0 L950.7,1056.5 L950.9,1059.5 L951.4,1059.5 L951.5,1059.7 L951.5,1059.5 L952.0,1059.5 L952.1,1056.1 L953.3,1050.2 L960.0,1050.2 L961.4,1062.5 L961.7,1067.5 L962.2,1067.5 L962.3,1067.8 L962.4,1067.5 L962.8,1067.5 L962.9,1060.9 L963.2,1054.5 L964.0,1054.5 L964.0,1064.9 L964.8,1088.2 L964.9,1100.0 L965.0,1102.5 L965.6,1102.5 L965.6,1102.8 L965.7,1102.5 L966.2,1102.5 L966.2,1081.1 L966.7,1062.6 L967.3,1054.6 L968.3,1052.3 L970.8,1050.5 L973.3,1050.8 L975.8,1050.5 L977.5,1052.2 L977.7,1053.0 L977.7,1055.0 L978.2,1055.0 L978.3,1055.4 L978.4,1055.0 L978.9,1055.0 L978.9,1053.0 L979.2,1052.1 L979.6,1051.6 L979.8,1050.5 L980.6,1050.5 L980.6,1053.4 L981.5,1060.5 L981.7,1065.0 L982.2,1065.0 L982.3,1065.3 L982.4,1065.0 L982.9,1065.0 L982.9,1058.6 L983.7,1052.1 L985.0,1050.2 L991.6,1050.2 L992.5,1056.3 L993.1,1075.8 L994.2,1184.7 L994.4,1245.5 L995.0,1245.5 L995.5,1245.5 L995.6,1179.7 L996.5,1076.3 L997.1,1056.8 L998.3,1052.2 L1000.0,1050.8 L1001.6,1050.2 L1007.5,1050.2 L1008.5,1052.5 L1008.5,1053.0 L1008.9,1053.0 L1009.1,1053.3 L1009.3,1053.0 L1009.7,1053.0 L1009.7,1051.9 L1010.3,1050.5 L1018.3,1050.2 L1019.7,1053.2 L1020.6,1059.6 L1020.7,1060.9 L1021.3,1085.7 L1022.0,1126.3 L1023.2,1180.7 L1023.5,1213.0 L1024.1,1213.0 L1024.1,1213.3 L1024.2,1213.0 L1024.7,1213.0 L1024.7,1151.3 L1025.7,1075.5 L1026.3,1059.6 L1027.5,1058.0 L1030.0,1053.0 L1031.6,1053.8 L1032.8,1051.7 L1032.9,1050.5 L1033.5,1050.5 L1033.6,1052.5 L1033.9,1052.5 L1034.1,1053.0 L1034.4,1052.5 L1034.7,1052.5 L1034.8,1051.7 L1035.3,1050.8 L1037.5,1050.2 L1042.5,1050.2 L1043.1,1056.2 L1043.6,1068.4 L1043.9,1087.0 L1044.4,1087.0 L1044.5,1087.2 L1044.5,1087.0 L1045.0,1087.0 L1045.1,1062.8 L1045.7,1052.3 L1046.0,1051.0 L1046.3,1050.3 L1049.1,1050.2 L1049.8,1056.8 L1050.7,1083.0 L1050.9,1107.5 L1051.4,1107.5 L1051.5,1107.7 L1051.5,1107.5 L1052.0,1107.5 L1052.1,1081.4 L1052.7,1062.5 L1053.3,1053.0 L1054.3,1050.3 L1061.6,1050.2 L1062.6,1052.5 L1062.7,1054.5 L1063.3,1054.6 L1063.9,1054.5 L1063.9,1051.8 L1064.2,1050.8 L1065.3,1050.2 L1070.8,1050.2 L1071.8,1054.3 L1072.0,1056.0 L1072.5,1056.0 L1072.6,1056.3 L1072.7,1056.0 L1073.1,1056.0 L1073.2,1054.5 L1073.6,1054.5 L1074.8,1121.3 L1074.9,1166.0 L1075.4,1166.0 L1075.5,1166.3 L1075.5,1166.0 L1076.0,1166.0 L1076.1,1119.7 L1077.0,1068.0 L1077.6,1056.6 L1078.7,1050.8 L1080.0,1050.2 L1095.8,1050.2 L1096.7,1050.8 L1100.0,1050.2 L1100.8,1053.1 L1101.7,1060.0 L1101.9,1068.0 L1103.0,1068.0 L1103.1,1062.0 L1104.1,1052.3 L1105.3,1050.2 L1110.8,1050.2 L1111.8,1052.5 L1111.9,1054.0 L1112.3,1054.0 L1112.5,1054.3 L1112.6,1054.0 L1113.0,1054.0 L1113.1,1052.4 L1113.3,1051.8 L1114.3,1050.2 L1122.5,1050.2 L1123.5,1053.7 L1123.6,1056.5 L1124.1,1056.6 L1124.7,1056.5 L1124.8,1053.9 L1126.0,1050.2 L1135.0,1050.2 L1136.0,1053.7 L1136.1,1056.5 L1136.6,1056.6 L1137.2,1056.5 L1137.3,1053.8 L1137.6,1052.2 L1138.7,1050.2 L1161.7,1050.1 L1161.7,1050.1 L1161.7,1302.7 Z" fill="#040404"/>
<rect x="653.3" y="1048.5" width="508.4" height="254.2" fill="none" stroke="#151515" stroke-width="1.25"/>
<text x="647.7" y="1053.0" text-anchor="end" font-family='"Liberation Sans", sans-serif' font-size="18.70" textLength="26.3" lengthAdjust="spacingAndGlyphs" fill="#111">1.0</text>
<text x="647.7" y="1103.4" text-anchor="end" font-family='"Liberation Sans", sans-serif' font-size="18.70" textLength="26.3" lengthAdjust="spacingAndGlyphs" fill="#111">0.8</text>
<text x="647.7" y="1153.9" text-anchor="end" font-family='"Liberation Sans", sans-serif' font-size="18.70" textLength="26.3" lengthAdjust="spacingAndGlyphs" fill="#111">0.6</text>
<text x="647.7" y="1204.4" text-anchor="end" font-family='"Liberation Sans", sans-serif' font-size="18.70" textLength="26.3" lengthAdjust="spacingAndGlyphs" fill="#111">0.4</text>
<text x="647.7" y="1254.9" text-anchor="end" font-family='"Liberation Sans", sans-serif' font-size="18.70" textLength="26.3" lengthAdjust="spacingAndGlyphs" fill="#111">0.2</text>
<text x="647.7" y="1305.4" text-anchor="end" font-family='"Liberation Sans", sans-serif' font-size="18.70" textLength="26.3" lengthAdjust="spacingAndGlyphs" fill="#111">0.0</text>
<text transform="translate(605.1,1176.2) rotate(-90)" text-anchor="middle" font-family='"Liberation Sans", sans-serif' font-size="18.70" textLength="91.5" lengthAdjust="spacingAndGlyphs" fill="#111">Probability</text>
<text transform="translate(666.8,1309.0) rotate(-90)" text-anchor="end" font-family='"Liberation Sans", sans-serif' font-size="18.70" textLength="55.3" lengthAdjust="spacingAndGlyphs" fill="#111">Oct 10</text>
<text transform="translate(693.9,1309.0) rotate(-90)" text-anchor="end" font-family='"Liberation Sans", sans-serif' font-size="18.70" textLength="48.1" lengthAdjust="spacingAndGlyphs" fill="#111">Jul 11</text>
<text transform="translate(721.1,1309.0) rotate(-90)" text-anchor="end" font-family='"Liberation Sans", sans-serif' font-size="18.70" textLength="56.0" lengthAdjust="spacingAndGlyphs" fill="#111">Apr 12</text>
<text transform="translate(748.3,1309.0) rotate(-90)" text-anchor="end" font-family='"Liberation Sans", sans-serif' font-size="18.70" textLength="53.3" lengthAdjust="spacingAndGlyphs" fill="#111">Jan 13</text>
<text transform="translate(775.5,1309.0) rotate(-90)" text-anchor="end" font-family='"Liberation Sans", sans-serif' font-size="18.70" textLength="59.6" lengthAdjust="spacingAndGlyphs" fill="#111">Nov 13</text>
<text transform="translate(802.7,1309.0) rotate(-90)" text-anchor="end" font-family='"Liberation Sans", sans-serif' font-size="18.70" textLength="58.6" lengthAdjust="spacingAndGlyphs" fill="#111">Aug 14</text>
<text transform="translate(829.9,1309.0) rotate(-90)" text-anchor="end" font-family='"Liberation Sans", sans-serif' font-size="18.70" textLength="63.0" lengthAdjust="spacingAndGlyphs" fill="#111">May 15</text>
<text transform="translate(857.1,1309.0) rotate(-90)" text-anchor="end" font-family='"Liberation Sans", sans-serif' font-size="18.70" textLength="56.6" lengthAdjust="spacingAndGlyphs" fill="#111">Feb 16</text>
<text transform="translate(884.2,1309.0) rotate(-90)" text-anchor="end" font-family='"Liberation Sans", sans-serif' font-size="18.70" textLength="57.7" lengthAdjust="spacingAndGlyphs" fill="#111">Dec 16</text>
<text transform="translate(911.4,1309.0) rotate(-90)" text-anchor="end" font-family='"Liberation Sans", sans-serif' font-size="18.70" textLength="56.6" lengthAdjust="spacingAndGlyphs" fill="#111">Sep 17</text>
<text transform="translate(938.6,1309.0) rotate(-90)" text-anchor="end" font-family='"Liberation Sans", sans-serif' font-size="18.70" textLength="54.3" lengthAdjust="spacingAndGlyphs" fill="#111">Jun 18</text>
<text transform="translate(965.8,1309.0) rotate(-90)" text-anchor="end" font-family='"Liberation Sans", sans-serif' font-size="18.70" textLength="60.8" lengthAdjust="spacingAndGlyphs" fill="#111">Mar 19</text>
<text transform="translate(993.0,1309.0) rotate(-90)" text-anchor="end" font-family='"Liberation Sans", sans-serif' font-size="18.70" textLength="57.7" lengthAdjust="spacingAndGlyphs" fill="#111">Dec 19</text>
<text transform="translate(1020.2,1309.0) rotate(-90)" text-anchor="end" font-family='"Liberation Sans", sans-serif' font-size="18.70" textLength="55.3" lengthAdjust="spacingAndGlyphs" fill="#111">Oct 20</text>
<text transform="translate(1047.4,1309.0) rotate(-90)" text-anchor="end" font-family='"Liberation Sans", sans-serif' font-size="18.70" textLength="48.1" lengthAdjust="spacingAndGlyphs" fill="#111">Jul 21</text>
<text transform="translate(1074.6,1309.0) rotate(-90)" text-anchor="end" font-family='"Liberation Sans", sans-serif' font-size="18.70" textLength="56.0" lengthAdjust="spacingAndGlyphs" fill="#111">Apr 22</text>
<text transform="translate(1101.7,1309.0) rotate(-90)" text-anchor="end" font-family='"Liberation Sans", sans-serif' font-size="18.70" textLength="53.3" lengthAdjust="spacingAndGlyphs" fill="#111">Jan 23</text>
<text transform="translate(1128.9,1309.0) rotate(-90)" text-anchor="end" font-family='"Liberation Sans", sans-serif' font-size="18.70" textLength="55.3" lengthAdjust="spacingAndGlyphs" fill="#111">Oct 23</text>
<text transform="translate(1156.1,1309.0) rotate(-90)" text-anchor="end" font-family='"Liberation Sans", sans-serif' font-size="18.70" textLength="58.6" lengthAdjust="spacingAndGlyphs" fill="#111">Aug 24</text>
<rect x="810.0" y="1394.0" width="20.0" height="21.0" fill="#000"/>
<rect x="810.5" y="1424.5" width="19.0" height="20.0" fill="#ffff00" stroke="#7a7a00" stroke-width="1"/>
<text x="838.0" y="1410.0" font-family='"Liberation Sans", sans-serif' font-size="18.70" textLength="162.9" lengthAdjust="spacingAndGlyphs" fill="#111">Low volatility state</text>
<text x="838.0" y="1439.0" font-family='"Liberation Sans", sans-serif' font-size="18.70" textLength="166.9" lengthAdjust="spacingAndGlyphs" fill="#111">High volatility state</text>
</g>
<g id="panelG">
<text x="133.3" y="1516.9" font-family='"Liberation Serif", serif' font-size="24.3" textLength="318.4" lengthAdjust="spacingAndGlyphs" fill="#000" stroke="#000" stroke-width="0.25">Panel G. Standard MS, Friday</text>
<rect x="62.5" y="1548.5" width="526.7" height="264.2" fill="#ffff00"/>
<path d="M62.5,1812.7 L62.5,1552.2 L67.0,1552.2 L67.6,1553.3 L68.3,1558.4 L69.0,1572.0 L69.6,1597.4 L70.0,1638.0 L70.8,1812.2 L74.6,1812.2 L74.9,1659.4 L75.2,1613.0 L76.0,1613.0 L76.6,1615.6 L77.1,1618.7 L77.8,1627.4 L78.5,1640.4 L79.5,1667.2 L80.4,1703.7 L82.1,1810.9 L82.2,1812.2 L84.1,1812.2 L85.0,1627.6 L85.4,1580.5 L86.0,1556.0 L86.7,1556.0 L87.1,1563.4 L87.9,1602.6 L88.6,1678.7 L89.3,1812.2 L96.6,1812.2 L97.3,1643.4 L98.0,1576.0 L98.7,1576.0 L98.8,1576.5 L99.4,1583.7 L100.0,1597.5 L100.5,1621.1 L101.5,1695.7 L102.5,1812.2 L104.6,1812.2 L105.1,1766.5 L105.6,1741.0 L106.4,1741.0 L107.0,1752.8 L107.5,1774.6 L108.0,1812.2 L109.3,1812.2 L109.8,1791.5 L110.4,1781.0 L111.2,1781.0 L111.6,1786.6 L111.9,1795.5 L112.1,1812.0 L112.3,1812.0 L112.3,1812.2 L113.0,1812.2 L113.0,1812.0 L113.2,1812.0 L113.4,1783.0 L114.1,1783.0 L114.5,1788.5 L114.9,1796.2 L115.1,1812.0 L115.3,1812.0 L115.3,1812.2 L116.0,1812.2 L116.0,1812.0 L116.2,1812.0 L116.3,1779.9 L117.0,1693.0 L117.6,1660.5 L118.3,1640.7 L118.7,1634.1 L118.9,1627.0 L118.9,1626.5 L119.4,1626.5 L119.5,1649.0 L120.1,1649.0 L120.1,1649.2 L120.2,1649.0 L120.7,1649.0 L120.7,1605.5 L121.3,1575.9 L122.0,1559.7 L123.3,1553.0 L125.0,1551.0 L132.5,1551.0 L133.6,1552.2 L135.0,1556.3 L136.0,1564.2 L136.1,1568.5 L136.6,1568.5 L136.6,1568.7 L136.7,1568.5 L137.2,1568.5 L137.3,1564.4 L138.3,1554.6 L139.7,1551.3 L151.6,1551.0 L153.0,1556.3 L154.0,1576.3 L156.7,1710.7 L160.0,1809.7 L160.3,1812.2 L162.5,1812.2 L163.3,1792.8 L164.1,1781.6 L165.0,1779.7 L166.3,1625.1 L167.1,1568.0 L167.8,1568.0 L167.9,1576.0 L168.3,1585.3 L169.1,1617.3 L170.9,1803.0 L171.1,1803.2 L171.2,1803.5 L171.5,1803.5 L172.0,1803.9 L172.0,1803.5 L172.3,1803.5 L172.4,1755.2 L173.0,1659.7 L173.6,1594.7 L174.3,1561.3 L174.7,1555.5 L174.7,1552.0 L175.5,1552.0 L175.7,1553.5 L176.0,1553.5 L176.3,1553.8 L176.5,1553.5 L176.9,1553.5 L177.2,1552.0 L178.0,1552.0 L178.0,1552.6 L178.6,1553.0 L179.3,1569.0 L180.0,1609.7 L180.7,1678.8 L182.0,1776.4 L183.0,1793.0 L183.7,1812.2 L188.6,1812.2 L190.1,1628.6 L190.6,1586.1 L191.3,1559.6 L192.5,1553.0 L195.0,1551.3 L201.6,1551.0 L202.9,1555.6 L203.0,1557.5 L203.5,1557.5 L203.6,1557.9 L203.8,1557.5 L204.2,1557.5 L204.2,1555.1 L204.6,1553.1 L205.8,1551.3 L211.6,1551.3 L213.3,1552.2 L215.0,1551.3 L217.5,1552.2 L220.0,1551.3 L222.5,1551.7 L224.1,1552.2 L225.0,1559.7 L226.5,1624.5 L226.7,1650.5 L227.9,1650.5 L227.9,1620.5 L228.7,1583.7 L229.5,1559.7 L230.8,1552.2 L233.3,1551.0 L255.0,1551.0 L255.0,1551.4 L256.6,1553.0 L257.3,1552.6 L257.4,1552.0 L258.1,1552.0 L258.2,1553.2 L258.8,1556.5 L259.6,1564.5 L259.7,1572.5 L260.2,1572.5 L260.3,1572.8 L260.4,1572.5 L260.9,1572.5 L260.9,1563.8 L261.6,1554.9 L262.6,1551.4 L275.0,1551.0 L275.8,1556.7 L276.7,1578.0 L278.7,1694.1 L278.9,1739.5 L279.4,1739.5 L279.5,1739.7 L279.5,1739.5 L280.0,1739.5 L280.1,1683.0 L281.0,1593.0 L281.6,1563.8 L282.6,1553.2 L284.2,1551.3 L303.3,1551.0 L309.1,1552.2 L310.8,1553.0 L313.2,1560.1 L313.3,1561.0 L313.8,1561.0 L314.0,1561.3 L314.1,1561.0 L314.5,1561.0 L314.5,1560.0 L316.0,1556.2 L316.2,1554.5 L317.0,1554.5 L317.0,1557.0 L317.5,1559.7 L319.3,1588.2 L319.4,1594.0 L319.9,1594.0 L319.9,1594.2 L320.0,1594.0 L320.5,1594.0 L320.6,1593.0 L320.9,1593.0 L321.5,1637.5 L322.1,1637.5 L322.1,1637.7 L322.2,1637.5 L322.7,1637.5 L322.7,1613.8 L323.6,1576.9 L323.9,1574.6 L324.0,1572.0 L324.7,1572.0 L325.0,1573.8 L325.6,1584.4 L326.3,1602.4 L328.1,1723.2 L328.2,1764.0 L328.8,1764.0 L328.8,1764.2 L328.9,1764.0 L329.4,1764.0 L329.4,1751.5 L329.7,1751.5 L330.0,1783.5 L331.2,1783.5 L331.3,1776.5 L331.7,1776.5 L331.7,1784.7 L332.7,1802.4 L333.0,1811.5 L333.6,1811.6 L334.2,1811.5 L334.2,1795.4 L335.0,1768.0 L336.6,1718.5 L337.5,1701.4 L338.3,1677.3 L339.2,1642.0 L340.8,1594.0 L341.6,1576.7 L342.5,1566.3 L343.7,1563.8 L343.8,1563.0 L344.2,1563.0 L344.4,1564.5 L344.9,1564.5 L345.0,1564.7 L345.0,1564.5 L345.5,1564.5 L345.6,1559.5 L345.9,1559.5 L346.0,1561.0 L346.5,1561.0 L346.6,1561.3 L346.7,1561.0 L347.1,1561.0 L347.2,1557.1 L347.5,1554.7 L348.3,1552.2 L350.8,1551.3 L353.3,1552.2 L354.6,1553.0 L356.0,1556.8 L356.1,1558.5 L356.5,1558.5 L356.6,1558.8 L356.8,1558.5 L357.2,1558.5 L357.3,1556.7 L358.6,1553.0 L360.0,1551.3 L365.0,1551.0 L366.3,1553.1 L368.4,1571.6 L368.7,1576.0 L369.2,1576.0 L369.3,1576.2 L369.4,1576.0 L369.8,1576.0 L369.9,1569.3 L370.3,1565.8 L370.3,1563.0 L371.1,1563.0 L371.4,1568.0 L372.5,1568.0 L372.6,1560.5 L373.3,1553.0 L374.7,1551.3 L380.0,1551.0 L381.3,1553.1 L382.0,1558.7 L382.2,1563.5 L382.8,1563.6 L382.9,1563.5 L383.4,1563.5 L383.4,1556.9 L384.3,1552.2 L385.8,1552.2 L387.5,1553.0 L388.7,1556.8 L390.4,1583.1 L390.7,1591.0 L390.7,1591.5 L391.2,1591.5 L391.3,1591.9 L391.4,1591.5 L391.9,1591.5 L391.9,1577.5 L392.6,1560.1 L393.7,1553.0 L395.0,1551.7 L397.5,1551.3 L398.6,1553.0 L399.0,1554.9 L399.1,1557.5 L399.5,1557.5 L399.6,1557.9 L399.8,1557.5 L400.2,1557.5 L400.3,1554.8 L400.6,1553.1 L402.0,1551.3 L411.6,1551.0 L413.3,1552.1 L414.1,1559.5 L415.0,1593.0 L416.7,1751.4 L416.9,1811.0 L417.5,1811.0 L418.0,1811.0 L418.1,1746.4 L419.0,1626.3 L419.5,1584.7 L420.2,1562.8 L421.3,1554.6 L423.0,1552.2 L425.0,1551.0 L430.0,1551.3 L431.6,1552.2 L433.3,1551.3 L439.2,1551.4 L440.8,1553.1 L441.6,1559.5 L442.5,1576.3 L443.3,1610.7 L446.7,1802.5 L446.9,1811.5 L447.4,1811.5 L447.5,1811.7 L447.5,1811.5 L448.0,1811.5 L448.1,1717.1 L448.8,1664.4 L449.1,1656.0 L449.9,1656.0 L450.2,1661.9 L450.7,1679.3 L450.7,1725.0 L451.3,1725.0 L451.3,1725.2 L451.4,1725.0 L451.9,1725.0 L452.0,1681.9 L453.6,1593.8 L454.3,1567.8 L455.0,1558.0 L455.4,1556.3 L455.6,1553.5 L456.3,1553.5 L456.4,1557.3 L457.5,1571.3 L458.3,1576.7 L459.1,1592.7 L460.0,1618.0 L460.4,1634.9 L460.7,1664.0 L460.7,1665.5 L461.2,1665.5 L461.3,1666.0 L461.4,1665.5 L461.9,1665.5 L461.9,1618.6 L462.8,1567.7 L463.5,1556.3 L464.3,1552.4 L464.5,1552.2 L464.9,1552.2 L465.5,1553.0 L466.3,1559.4 L466.8,1566.4 L466.9,1580.5 L468.0,1580.5 L468.2,1569.3 L469.0,1558.0 L470.0,1553.0 L471.6,1551.4 L476.6,1552.2 L480.0,1551.3 L486.6,1551.3 L495.0,1551.0 L496.6,1553.0 L498.0,1556.3 L498.8,1568.6 L499.5,1593.0 L500.1,1623.0 L500.2,1649.5 L500.8,1649.5 L500.8,1649.7 L500.9,1649.5 L501.4,1649.5 L501.4,1620.4 L502.2,1583.6 L502.8,1562.8 L503.7,1553.8 L505.0,1551.3 L513.3,1551.0 L514.6,1553.0 L514.8,1553.9 L514.9,1557.0 L515.4,1557.0 L515.5,1557.2 L515.5,1557.0 L516.0,1557.0 L516.1,1554.2 L516.3,1553.0 L517.1,1551.8 L517.2,1551.0 L517.9,1551.0 L518.0,1551.6 L519.2,1552.2 L519.6,1553.2 L519.7,1554.5 L520.3,1554.6 L520.9,1554.5 L521.1,1552.0 L521.8,1552.0 L521.9,1552.6 L522.5,1553.0 L523.6,1554.6 L524.6,1559.6 L525.3,1577.6 L527.0,1721.8 L527.2,1754.5 L527.2,1756.0 L527.7,1756.0 L527.8,1756.2 L527.8,1756.0 L528.4,1756.0 L528.4,1713.2 L529.0,1643.0 L529.5,1593.0 L530.0,1568.0 L530.8,1556.3 L532.0,1552.2 L534.2,1551.0 L560.0,1551.0 L561.3,1553.1 L562.5,1561.4 L562.7,1566.5 L563.2,1566.5 L563.3,1567.0 L563.4,1566.5 L563.8,1566.5 L563.9,1560.8 L564.6,1554.0 L565.8,1551.3 L589.2,1550.7 L589.2,1550.7 L589.2,1812.7 Z" fill="#040404"/>
<rect x="62.5" y="1548.5" width="526.7" height="264.2" fill="none" stroke="#151515" stroke-width="1.25"/>
<text x="56.7" y="1554.0" text-anchor="end" font-family='"Liberation Sans", sans-serif' font-size="19.39" textLength="27.3" lengthAdjust="spacingAndGlyphs" fill="#111">1.0</text>
<text x="56.7" y="1606.4" text-anchor="end" font-family='"Liberation Sans", sans-serif' font-size="19.39" textLength="27.3" lengthAdjust="spacingAndGlyphs" fill="#111">0.8</text>
<text x="56.7" y="1658.7" text-anchor="end" font-family='"Liberation Sans", sans-serif' font-size="19.39" textLength="27.3" lengthAdjust="spacingAndGlyphs" fill="#111">0.6</text>
<text x="56.7" y="1711.1" text-anchor="end" font-family='"Liberation Sans", sans-serif' font-size="19.39" textLength="27.3" lengthAdjust="spacingAndGlyphs" fill="#111">0.4</text>
<text x="56.7" y="1763.4" text-anchor="end" font-family='"Liberation Sans", sans-serif' font-size="19.39" textLength="27.3" lengthAdjust="spacingAndGlyphs" fill="#111">0.2</text>
<text x="56.7" y="1815.8" text-anchor="end" font-family='"Liberation Sans", sans-serif' font-size="19.39" textLength="27.3" lengthAdjust="spacingAndGlyphs" fill="#111">0.0</text>
<text transform="translate(15.8,1683.5) rotate(-90)" text-anchor="middle" font-family='"Liberation Sans", sans-serif' font-size="19.39" textLength="94.8" lengthAdjust="spacingAndGlyphs" fill="#111">Probability</text>
<text transform="translate(76.4,1819.2) rotate(-90)" text-anchor="end" font-family='"Liberation Sans", sans-serif' font-size="19.39" textLength="57.4" lengthAdjust="spacingAndGlyphs" fill="#111">Oct 10</text>
<text transform="translate(104.6,1819.2) rotate(-90)" text-anchor="end" font-family='"Liberation Sans", sans-serif' font-size="19.39" textLength="49.9" lengthAdjust="spacingAndGlyphs" fill="#111">Jul 11</text>
<text transform="translate(132.8,1819.2) rotate(-90)" text-anchor="end" font-family='"Liberation Sans", sans-serif' font-size="19.39" textLength="58.1" lengthAdjust="spacingAndGlyphs" fill="#111">Apr 12</text>
<text transform="translate(160.9,1819.2) rotate(-90)" text-anchor="end" font-family='"Liberation Sans", sans-serif' font-size="19.39" textLength="55.3" lengthAdjust="spacingAndGlyphs" fill="#111">Jan 13</text>
<text transform="translate(189.1,1819.2) rotate(-90)" text-anchor="end" font-family='"Liberation Sans", sans-serif' font-size="19.39" textLength="61.8" lengthAdjust="spacingAndGlyphs" fill="#111">Nov 13</text>
<text transform="translate(217.3,1819.2) rotate(-90)" text-anchor="end" font-family='"Liberation Sans", sans-serif' font-size="19.39" textLength="60.7" lengthAdjust="spacingAndGlyphs" fill="#111">Aug 14</text>
<text transform="translate(245.4,1819.2) rotate(-90)" text-anchor="end" font-family='"Liberation Sans", sans-serif' font-size="19.39" textLength="65.3" lengthAdjust="spacingAndGlyphs" fill="#111">May 15</text>
<text transform="translate(273.6,1819.2) rotate(-90)" text-anchor="end" font-family='"Liberation Sans", sans-serif' font-size="19.39" textLength="58.7" lengthAdjust="spacingAndGlyphs" fill="#111">Feb 16</text>
<text transform="translate(301.8,1819.2) rotate(-90)" text-anchor="end" font-family='"Liberation Sans", sans-serif' font-size="19.39" textLength="61.8" lengthAdjust="spacingAndGlyphs" fill="#111">Nov 16</text>
<text transform="translate(329.9,1819.2) rotate(-90)" text-anchor="end" font-family='"Liberation Sans", sans-serif' font-size="19.39" textLength="58.7" lengthAdjust="spacingAndGlyphs" fill="#111">Sep 17</text>
<text transform="translate(358.1,1819.2) rotate(-90)" text-anchor="end" font-family='"Liberation Sans", sans-serif' font-size="19.39" textLength="56.3" lengthAdjust="spacingAndGlyphs" fill="#111">Jun 18</text>
<text transform="translate(386.3,1819.2) rotate(-90)" text-anchor="end" font-family='"Liberation Sans", sans-serif' font-size="19.39" textLength="63.0" lengthAdjust="spacingAndGlyphs" fill="#111">Mar 19</text>
<text transform="translate(414.4,1819.2) rotate(-90)" text-anchor="end" font-family='"Liberation Sans", sans-serif' font-size="19.39" textLength="59.9" lengthAdjust="spacingAndGlyphs" fill="#111">Dec 19</text>
<text transform="translate(442.6,1819.2) rotate(-90)" text-anchor="end" font-family='"Liberation Sans", sans-serif' font-size="19.39" textLength="58.7" lengthAdjust="spacingAndGlyphs" fill="#111">Sep 20</text>
<text transform="translate(470.8,1819.2) rotate(-90)" text-anchor="end" font-family='"Liberation Sans", sans-serif' font-size="19.39" textLength="49.9" lengthAdjust="spacingAndGlyphs" fill="#111">Jul 21</text>
<text transform="translate(498.9,1819.2) rotate(-90)" text-anchor="end" font-family='"Liberation Sans", sans-serif' font-size="19.39" textLength="58.1" lengthAdjust="spacingAndGlyphs" fill="#111">Apr 22</text>
<text transform="translate(527.1,1819.2) rotate(-90)" text-anchor="end" font-family='"Liberation Sans", sans-serif' font-size="19.39" textLength="55.3" lengthAdjust="spacingAndGlyphs" fill="#111">Jan 23</text>
<text transform="translate(555.3,1819.2) rotate(-90)" text-anchor="end" font-family='"Liberation Sans", sans-serif' font-size="19.39" textLength="57.4" lengthAdjust="spacingAndGlyphs" fill="#111">Oct 23</text>
<text transform="translate(583.4,1819.2) rotate(-90)" text-anchor="end" font-family='"Liberation Sans", sans-serif' font-size="19.39" textLength="49.9" lengthAdjust="spacingAndGlyphs" fill="#111">Jul 24</text>
<rect x="225.0" y="1907.4" width="20.7" height="21.7" fill="#000"/>
<rect x="225.5" y="1939.0" width="19.7" height="20.7" fill="#ffff00" stroke="#7a7a00" stroke-width="1"/>
<text x="254.0" y="1924.0" font-family='"Liberation Sans", sans-serif' font-size="19.39" textLength="168.9" lengthAdjust="spacingAndGlyphs" fill="#111">Low volatility state</text>
<text x="254.0" y="1954.0" font-family='"Liberation Sans", sans-serif' font-size="19.39" textLength="173.1" lengthAdjust="spacingAndGlyphs" fill="#111">High volatility state</text>
</g>
<g id="panelH">
<text x="738.3" y="1516.9" font-family='"Liberation Serif", serif' font-size="24.3" textLength="323.4" lengthAdjust="spacingAndGlyphs" fill="#000" stroke="#000" stroke-width="0.25">Panel H. MS–GARCH, Friday</text>
<rect x="673.3" y="1548.5" width="525.9" height="264.2" fill="#ffff00"/>
<path d="M673.3,1812.7 L673.3,1550.8 L678.3,1550.8 L679.1,1559.5 L679.6,1608.0 L680.6,1790.5 L681.0,1812.2 L683.0,1812.2 L683.3,1808.0 L685.0,1593.0 L685.6,1563.8 L686.2,1556.7 L686.3,1552.0 L687.0,1552.0 L687.2,1553.9 L687.5,1554.7 L688.3,1568.4 L689.3,1593.6 L690.3,1627.2 L691.3,1677.3 L692.8,1777.5 L693.1,1809.5 L693.3,1809.5 L693.3,1809.7 L694.0,1809.7 L694.0,1809.5 L694.2,1809.5 L694.3,1712.8 L694.8,1629.6 L695.2,1582.2 L695.6,1563.0 L696.0,1553.3 L696.2,1551.3 L696.5,1550.8 L696.9,1550.8 L697.1,1551.1 L697.6,1553.0 L698.3,1569.4 L699.1,1622.1 L699.7,1697.5 L700.3,1812.2 L703.6,1812.2 L704.5,1743.0 L705.3,1717.0 L707.3,1584.1 L708.0,1563.0 L709.0,1553.0 L710.3,1551.4 L710.4,1550.5 L711.1,1550.5 L711.2,1552.0 L712.2,1555.1 L712.3,1556.0 L712.8,1556.0 L713.0,1556.3 L713.1,1556.0 L713.5,1556.0 L713.5,1554.8 L714.1,1553.0 L715.4,1551.3 L715.4,1550.5 L716.2,1550.5 L716.2,1551.3 L717.5,1553.0 L719.2,1553.9 L720.8,1556.4 L722.0,1558.8 L723.0,1559.7 L723.6,1575.9 L724.3,1628.0 L725.6,1753.0 L725.7,1796.0 L725.7,1799.5 L726.3,1799.5 L726.3,1800.0 L726.4,1799.5 L726.9,1799.5 L726.9,1736.4 L727.5,1626.3 L728.0,1584.7 L728.5,1563.0 L729.3,1553.8 L730.8,1550.8 L736.6,1550.5 L743.3,1550.5 L745.0,1552.2 L746.1,1555.5 L746.6,1558.4 L746.9,1561.5 L747.4,1561.5 L747.5,1561.7 L747.5,1561.5 L748.0,1561.5 L748.1,1556.9 L749.0,1552.2 L750.3,1550.5 L762.5,1550.5 L763.6,1553.0 L764.6,1559.6 L765.5,1568.0 L766.3,1585.2 L767.1,1609.2 L768.0,1643.0 L769.9,1767.5 L770.0,1806.0 L770.6,1806.0 L770.6,1806.5 L770.7,1806.0 L771.2,1806.0 L771.2,1805.0 L771.3,1763.0 L772.6,1628.0 L773.3,1592.5 L774.0,1573.0 L775.0,1559.7 L776.3,1553.0 L777.6,1551.3 L777.6,1550.5 L778.4,1550.5 L778.4,1551.1 L779.6,1552.2 L780.8,1554.7 L781.6,1557.5 L781.9,1557.5 L782.3,1558.0 L782.4,1557.5 L782.7,1557.5 L783.0,1554.7 L784.0,1552.2 L785.3,1550.8 L787.5,1550.8 L789.1,1550.5 L790.0,1556.3 L790.6,1575.8 L791.3,1628.0 L792.6,1758.0 L793.4,1796.2 L793.5,1811.0 L793.9,1811.0 L794.0,1811.4 L794.2,1811.0 L794.6,1811.0 L795.0,1809.5 L796.5,1643.0 L797.0,1609.7 L797.6,1585.3 L798.3,1567.8 L799.3,1557.9 L800.6,1553.1 L802.5,1550.8 L811.6,1550.5 L812.7,1553.2 L813.1,1555.2 L813.2,1557.5 L813.6,1557.5 L813.8,1557.9 L813.9,1557.5 L814.3,1557.5 L814.4,1555.2 L815.3,1551.7 L816.7,1550.5 L835.0,1550.5 L836.0,1553.0 L836.3,1554.8 L836.5,1557.5 L837.1,1557.6 L837.7,1557.5 L837.7,1554.3 L838.6,1550.8 L840.0,1550.4 L865.0,1550.4 L865.9,1552.5 L866.1,1554.5 L866.6,1554.6 L867.2,1554.5 L867.3,1551.7 L867.5,1550.8 L869.1,1550.8 L870.3,1559.0 L870.5,1564.0 L871.1,1564.0 L871.1,1564.2 L871.2,1564.0 L871.7,1564.0 L871.7,1557.3 L872.3,1552.1 L873.3,1550.4 L886.3,1550.4 L887.0,1556.3 L887.5,1576.3 L887.7,1589.7 L887.7,1631.0 L888.3,1631.0 L888.3,1631.1 L888.9,1631.0 L888.9,1630.5 L889.2,1621.5 L889.6,1618.1 L891.0,1568.0 L891.6,1555.0 L892.6,1550.6 L907.5,1550.4 L908.0,1551.0 L908.1,1551.5 L908.6,1551.6 L909.2,1551.5 L909.3,1551.0 L910.0,1550.4 L920.8,1550.4 L922.0,1553.0 L923.3,1553.8 L925.0,1552.7 L926.6,1550.8 L929.1,1550.5 L930.0,1556.3 L930.8,1564.3 L931.3,1573.0 L931.5,1574.0 L932.0,1574.0 L932.1,1574.3 L932.2,1574.0 L932.6,1574.0 L932.7,1566.6 L933.5,1554.7 L934.3,1550.8 L935.8,1550.8 L936.7,1560.5 L937.7,1585.5 L938.0,1599.0 L938.6,1599.0 L938.6,1599.2 L938.7,1599.0 L939.2,1599.0 L939.2,1577.9 L939.9,1569.3 L940.1,1568.3 L940.4,1568.0 L940.9,1568.1 L941.2,1568.8 L941.6,1572.0 L941.9,1578.2 L942.5,1606.4 L943.0,1660.0 L943.1,1765.5 L943.6,1765.5 L943.7,1765.7 L943.7,1765.5 L944.2,1765.5 L944.5,1760.0 L945.3,1641.3 L945.8,1592.2 L946.3,1569.7 L947.0,1556.3 L948.0,1552.2 L950.0,1550.8 L953.3,1551.7 L956.7,1550.8 L961.6,1550.5 L965.0,1550.8 L965.9,1553.3 L966.0,1554.5 L966.4,1554.5 L966.6,1555.0 L966.8,1554.5 L967.2,1554.5 L967.2,1553.3 L967.6,1552.2 L968.7,1550.5 L978.3,1550.4 L980.8,1550.8 L981.8,1552.6 L982.0,1553.5 L982.4,1553.5 L982.6,1553.8 L982.8,1553.5 L983.1,1553.5 L983.2,1552.2 L983.7,1550.8 L985.0,1550.4 L990.8,1550.4 L991.7,1555.1 L992.5,1565.2 L992.7,1574.0 L993.3,1574.0 L993.9,1574.0 L993.9,1562.5 L994.3,1555.4 L995.0,1552.2 L996.3,1550.8 L998.3,1550.6 L999.3,1554.8 L999.8,1559.3 L999.9,1565.0 L1001.0,1565.0 L1001.1,1559.9 L1002.0,1552.2 L1003.3,1550.4 L1024.1,1550.4 L1025.0,1556.3 L1025.5,1576.3 L1026.6,1713.0 L1026.7,1785.0 L1027.3,1785.0 L1027.3,1785.3 L1027.4,1785.0 L1027.9,1785.0 L1027.9,1703.0 L1028.3,1624.7 L1028.8,1575.8 L1029.5,1556.3 L1030.5,1551.7 L1032.0,1550.4 L1040.0,1550.4 L1040.9,1552.1 L1041.0,1553.0 L1041.4,1553.0 L1041.6,1553.3 L1041.8,1553.0 L1042.2,1553.0 L1042.2,1551.8 L1042.7,1550.8 L1044.2,1550.4 L1052.5,1550.4 L1053.3,1552.9 L1054.1,1559.5 L1054.8,1583.4 L1056.0,1661.3 L1056.4,1665.0 L1056.7,1674.5 L1057.3,1674.6 L1057.8,1674.5 L1057.9,1637.5 L1058.3,1600.5 L1059.0,1568.0 L1059.9,1554.5 L1060.6,1554.5 L1060.9,1561.0 L1062.0,1561.0 L1062.2,1556.2 L1063.0,1552.2 L1064.1,1550.4 L1066.6,1550.4 L1068.3,1551.7 L1070.0,1552.2 L1070.3,1552.0 L1070.4,1551.7 L1071.3,1550.8 L1073.3,1550.4 L1076.3,1550.4 L1077.0,1556.3 L1077.7,1572.2 L1077.7,1588.0 L1078.3,1588.0 L1078.3,1588.4 L1078.4,1588.0 L1078.9,1588.0 L1079.0,1571.3 L1079.6,1556.7 L1080.5,1550.8 L1081.7,1550.4 L1084.1,1550.4 L1084.7,1551.0 L1084.7,1551.5 L1085.3,1551.7 L1085.9,1551.5 L1085.9,1551.1 L1086.7,1550.4 L1108.0,1550.4 L1108.6,1556.2 L1109.3,1565.8 L1109.4,1574.5 L1109.9,1574.5 L1110.0,1574.7 L1110.0,1574.5 L1110.5,1574.5 L1110.6,1564.9 L1111.3,1555.4 L1112.2,1550.8 L1113.3,1550.4 L1123.3,1550.4 L1124.3,1551.6 L1124.4,1552.5 L1124.8,1552.5 L1125.0,1552.7 L1125.1,1552.5 L1125.5,1552.5 L1125.6,1551.4 L1126.0,1550.5 L1130.0,1550.4 L1131.3,1552.2 L1131.7,1553.0 L1131.7,1554.0 L1132.1,1554.0 L1132.3,1554.3 L1132.5,1554.0 L1132.9,1554.0 L1132.9,1553.0 L1134.3,1550.4 L1135.8,1550.4 L1136.5,1556.3 L1137.0,1584.7 L1137.6,1656.3 L1137.6,1713.0 L1137.7,1719.5 L1138.2,1719.5 L1138.3,1719.9 L1138.4,1719.5 L1138.9,1719.5 L1138.9,1660.8 L1139.8,1567.7 L1140.5,1554.7 L1141.3,1550.5 L1146.6,1550.4 L1147.0,1550.8 L1147.0,1551.5 L1147.6,1551.6 L1148.2,1551.5 L1148.2,1550.9 L1148.7,1550.4 L1159.1,1550.4 L1160.8,1550.8 L1162.5,1550.4 L1164.1,1550.8 L1165.8,1550.4 L1170.8,1550.4 L1171.6,1552.9 L1172.5,1559.7 L1172.9,1568.0 L1174.0,1568.0 L1174.1,1560.5 L1174.8,1553.3 L1175.8,1550.4 L1199.2,1550.2 L1199.2,1550.2 L1199.2,1812.7 Z" fill="#040404"/>
<rect x="673.3" y="1548.5" width="525.9" height="264.2" fill="none" stroke="#151515" stroke-width="1.25"/>
<text x="667.0" y="1554.0" text-anchor="end" font-family='"Liberation Sans", sans-serif' font-size="19.39" textLength="27.3" lengthAdjust="spacingAndGlyphs" fill="#111">1.0</text>
<text x="667.0" y="1606.4" text-anchor="end" font-family='"Liberation Sans", sans-serif' font-size="19.39" textLength="27.3" lengthAdjust="spacingAndGlyphs" fill="#111">0.8</text>
<text x="667.0" y="1658.7" text-anchor="end" font-family='"Liberation Sans", sans-serif' font-size="19.39" textLength="27.3" lengthAdjust="spacingAndGlyphs" fill="#111">0.6</text>
<text x="667.0" y="1711.1" text-anchor="end" font-family='"Liberation Sans", sans-serif' font-size="19.39" textLength="27.3" lengthAdjust="spacingAndGlyphs" fill="#111">0.4</text>
<text x="667.0" y="1763.4" text-anchor="end" font-family='"Liberation Sans", sans-serif' font-size="19.39" textLength="27.3" lengthAdjust="spacingAndGlyphs" fill="#111">0.2</text>
<text x="667.0" y="1815.8" text-anchor="end" font-family='"Liberation Sans", sans-serif' font-size="19.39" textLength="27.3" lengthAdjust="spacingAndGlyphs" fill="#111">0.0</text>
<text transform="translate(623.3,1681.7) rotate(-90)" text-anchor="middle" font-family='"Liberation Sans", sans-serif' font-size="19.39" textLength="94.8" lengthAdjust="spacingAndGlyphs" fill="#111">Probability</text>
<text transform="translate(686.7,1819.2) rotate(-90)" text-anchor="end" font-family='"Liberation Sans", sans-serif' font-size="19.39" textLength="57.4" lengthAdjust="spacingAndGlyphs" fill="#111">Oct 10</text>
<text transform="translate(714.9,1819.2) rotate(-90)" text-anchor="end" font-family='"Liberation Sans", sans-serif' font-size="19.39" textLength="49.9" lengthAdjust="spacingAndGlyphs" fill="#111">Jul 11</text>
<text transform="translate(743.0,1819.2) rotate(-90)" text-anchor="end" font-family='"Liberation Sans", sans-serif' font-size="19.39" textLength="58.1" lengthAdjust="spacingAndGlyphs" fill="#111">Apr 12</text>
<text transform="translate(771.1,1819.2) rotate(-90)" text-anchor="end" font-family='"Liberation Sans", sans-serif' font-size="19.39" textLength="55.3" lengthAdjust="spacingAndGlyphs" fill="#111">Jan 13</text>
<text transform="translate(799.2,1819.2) rotate(-90)" text-anchor="end" font-family='"Liberation Sans", sans-serif' font-size="19.39" textLength="61.8" lengthAdjust="spacingAndGlyphs" fill="#111">Nov 13</text>
<text transform="translate(827.4,1819.2) rotate(-90)" text-anchor="end" font-family='"Liberation Sans", sans-serif' font-size="19.39" textLength="60.7" lengthAdjust="spacingAndGlyphs" fill="#111">Aug 14</text>
<text transform="translate(855.5,1819.2) rotate(-90)" text-anchor="end" font-family='"Liberation Sans", sans-serif' font-size="19.39" textLength="65.3" lengthAdjust="spacingAndGlyphs" fill="#111">May 15</text>
<text transform="translate(883.6,1819.2) rotate(-90)" text-anchor="end" font-family='"Liberation Sans", sans-serif' font-size="19.39" textLength="58.7" lengthAdjust="spacingAndGlyphs" fill="#111">Feb 16</text>
<text transform="translate(911.7,1819.2) rotate(-90)" text-anchor="end" font-family='"Liberation Sans", sans-serif' font-size="19.39" textLength="61.8" lengthAdjust="spacingAndGlyphs" fill="#111">Nov 16</text>
<text transform="translate(939.9,1819.2) rotate(-90)" text-anchor="end" font-family='"Liberation Sans", sans-serif' font-size="19.39" textLength="58.7" lengthAdjust="spacingAndGlyphs" fill="#111">Sep 17</text>
<text transform="translate(968.0,1819.2) rotate(-90)" text-anchor="end" font-family='"Liberation Sans", sans-serif' font-size="19.39" textLength="56.3" lengthAdjust="spacingAndGlyphs" fill="#111">Jun 18</text>
<text transform="translate(996.1,1819.2) rotate(-90)" text-anchor="end" font-family='"Liberation Sans", sans-serif' font-size="19.39" textLength="63.0" lengthAdjust="spacingAndGlyphs" fill="#111">Mar 19</text>
<text transform="translate(1024.2,1819.2) rotate(-90)" text-anchor="end" font-family='"Liberation Sans", sans-serif' font-size="19.39" textLength="59.9" lengthAdjust="spacingAndGlyphs" fill="#111">Dec 19</text>
<text transform="translate(1052.3,1819.2) rotate(-90)" text-anchor="end" font-family='"Liberation Sans", sans-serif' font-size="19.39" textLength="58.7" lengthAdjust="spacingAndGlyphs" fill="#111">Sep 20</text>
<text transform="translate(1080.5,1819.2) rotate(-90)" text-anchor="end" font-family='"Liberation Sans", sans-serif' font-size="19.39" textLength="49.9" lengthAdjust="spacingAndGlyphs" fill="#111">Jul 21</text>
<text transform="translate(1108.6,1819.2) rotate(-90)" text-anchor="end" font-family='"Liberation Sans", sans-serif' font-size="19.39" textLength="58.1" lengthAdjust="spacingAndGlyphs" fill="#111">Apr 22</text>
<text transform="translate(1136.7,1819.2) rotate(-90)" text-anchor="end" font-family='"Liberation Sans", sans-serif' font-size="19.39" textLength="55.3" lengthAdjust="spacingAndGlyphs" fill="#111">Jan 23</text>
<text transform="translate(1164.8,1819.2) rotate(-90)" text-anchor="end" font-family='"Liberation Sans", sans-serif' font-size="19.39" textLength="57.4" lengthAdjust="spacingAndGlyphs" fill="#111">Oct 23</text>
<text transform="translate(1193.0,1819.2) rotate(-90)" text-anchor="end" font-family='"Liberation Sans", sans-serif' font-size="19.39" textLength="49.9" lengthAdjust="spacingAndGlyphs" fill="#111">Jul 24</text>
<rect x="835.3" y="1907.4" width="20.7" height="21.7" fill="#000"/>
<rect x="835.8" y="1939.0" width="19.7" height="20.7" fill="#ffff00" stroke="#7a7a00" stroke-width="1"/>
<text x="864.3" y="1924.0" font-family='"Liberation Sans", sans-serif' font-size="19.39" textLength="168.9" lengthAdjust="spacingAndGlyphs" fill="#111">Low volatility state</text>
<text x="864.3" y="1954.0" font-family='"Liberation Sans", sans-serif' font-size="19.39" textLength="173.1" lengthAdjust="spacingAndGlyphs" fill="#111">High volatility state</text>
</g>
</svg>
</body></html>
